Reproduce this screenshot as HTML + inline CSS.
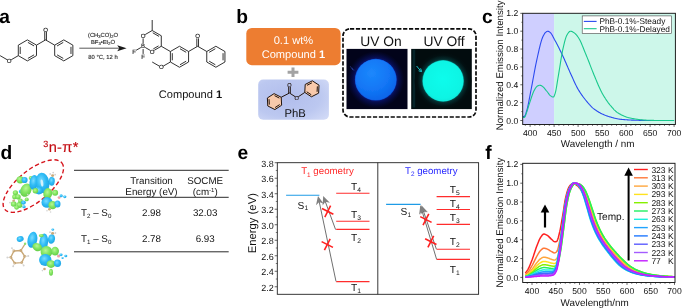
<!DOCTYPE html>
<html lang="en"><head><meta charset="utf-8"><title>Figure</title>
<style>html,body{margin:0;padding:0;background:#fff;}body{width:682px;height:308px;overflow:hidden;}svg{display:block;font-family:'Liberation Sans', Arial, sans-serif;text-rendering:geometricPrecision;}</style></head><body>
<svg width="682" height="308" viewBox="0 0 682 308">
<defs>
<radialGradient id="gBlue" cx="40%" cy="34%" r="70%"><stop offset="0" stop-color="#1c88fc"/><stop offset="0.6" stop-color="#1276f5"/><stop offset="1" stop-color="#0c64e8"/></radialGradient>
<radialGradient id="gBlueBg" cx="50%" cy="50%" r="50%"><stop offset="0" stop-color="#0a1670"/><stop offset="0.72" stop-color="#0a1670"/><stop offset="0.80" stop-color="#060c4a"/><stop offset="0.92" stop-color="#03062a"/><stop offset="1" stop-color="#02031a"/></radialGradient>
<radialGradient id="gCy" cx="50%" cy="45%" r="60%"><stop offset="0" stop-color="#10fcec"/><stop offset="0.8" stop-color="#0cf4e4"/><stop offset="1" stop-color="#08e4d6"/></radialGradient>
<radialGradient id="gCyBg" cx="50%" cy="50%" r="50%"><stop offset="0" stop-color="#084848"/><stop offset="0.71" stop-color="#084848"/><stop offset="0.78" stop-color="#04282a"/><stop offset="0.9" stop-color="#021012"/><stop offset="1" stop-color="#020c0e"/></radialGradient>
<radialGradient id="gPhB" cx="40%" cy="45%" r="80%"><stop offset="0" stop-color="#b1bdec"/><stop offset="0.6" stop-color="#bcc8f0"/><stop offset="1" stop-color="#d4dcf7"/></radialGradient>
<radialGradient id="gCyB" cx="42%" cy="38%" r="65%"><stop offset="0" stop-color="#7adcff"/><stop offset="0.5" stop-color="#30bcf6"/><stop offset="1" stop-color="#1ea4e2"/></radialGradient><radialGradient id="gGrB" cx="42%" cy="38%" r="65%"><stop offset="0" stop-color="#b8f696"/><stop offset="0.5" stop-color="#84e662"/><stop offset="1" stop-color="#64cc48"/></radialGradient>
<filter id="blur1" x="-20%" y="-20%" width="140%" height="140%"><feGaussianBlur stdDeviation="0.7"/></filter>
<filter id="blur2" x="-20%" y="-20%" width="140%" height="140%"><feGaussianBlur stdDeviation="0.5"/></filter>
<filter id="blur3" x="-20%" y="-20%" width="140%" height="140%"><feGaussianBlur stdDeviation="1.2"/></filter>
<clipPath id="clipP1"><rect x="346.5" y="48.9" width="61" height="60.2"/></clipPath><clipPath id="clipP2"><rect x="411.2" y="48.9" width="60.6" height="60.2"/></clipPath>
<clipPath id="clipC"><rect x="523" y="13.3" width="652.5" height="110.4"/></clipPath>
<clipPath id="clipF"><rect x="523" y="164" width="152" height="118.5"/></clipPath>
</defs>
<rect x="0" y="0" width="682" height="308" fill="#ffffff"/>
<text x="-0.8" y="22.7" font-size="19.2" text-anchor="start" fill="#000" font-weight="bold" >a</text>
<text x="236.2" y="22.7" font-size="19.2" text-anchor="start" fill="#000" font-weight="bold" >b</text>
<text x="482" y="22.7" font-size="19.2" text-anchor="start" fill="#000" font-weight="bold" >c</text>
<text x="0.6" y="158.7" font-size="19.2" text-anchor="start" fill="#000" font-weight="bold" >d</text>
<text x="237.5" y="158.7" font-size="19.2" text-anchor="start" fill="#000" font-weight="bold" >e</text>
<text x="485.3" y="158.8" font-size="19.2" text-anchor="start" fill="#000" font-weight="bold" >f</text>
<g id="panelA">
<line x1="27.4" y1="39.9" x2="36.49" y2="45.15" stroke="#1c1c1c" stroke-width="0.9" />
<line x1="36.49" y1="45.15" x2="36.49" y2="55.65" stroke="#1c1c1c" stroke-width="0.9" />
<line x1="36.49" y1="55.65" x2="27.4" y2="60.9" stroke="#1c1c1c" stroke-width="0.9" />
<line x1="27.4" y1="60.9" x2="18.31" y2="55.65" stroke="#1c1c1c" stroke-width="0.9" />
<line x1="18.31" y1="55.65" x2="18.31" y2="45.15" stroke="#1c1c1c" stroke-width="0.9" />
<line x1="18.31" y1="45.15" x2="27.4" y2="39.9" stroke="#1c1c1c" stroke-width="0.9" />
<line x1="27.9" y1="42.39" x2="34.09" y2="45.96" stroke="#1c1c1c" stroke-width="0.9" />
<line x1="34.09" y1="54.84" x2="27.9" y2="58.41" stroke="#1c1c1c" stroke-width="0.9" />
<line x1="20.21" y1="53.97" x2="20.21" y2="46.83" stroke="#1c1c1c" stroke-width="0.9" />
<line x1="63.77" y1="39.9" x2="72.87" y2="45.15" stroke="#1c1c1c" stroke-width="0.9" />
<line x1="72.87" y1="45.15" x2="72.87" y2="55.65" stroke="#1c1c1c" stroke-width="0.9" />
<line x1="72.87" y1="55.65" x2="63.77" y2="60.9" stroke="#1c1c1c" stroke-width="0.9" />
<line x1="63.77" y1="60.9" x2="54.68" y2="55.65" stroke="#1c1c1c" stroke-width="0.9" />
<line x1="54.68" y1="55.65" x2="54.68" y2="45.15" stroke="#1c1c1c" stroke-width="0.9" />
<line x1="54.68" y1="45.15" x2="63.77" y2="39.9" stroke="#1c1c1c" stroke-width="0.9" />
<line x1="70.97" y1="46.83" x2="70.97" y2="53.97" stroke="#1c1c1c" stroke-width="0.9" />
<line x1="63.27" y1="58.41" x2="57.08" y2="54.84" stroke="#1c1c1c" stroke-width="0.9" />
<line x1="57.08" y1="45.96" x2="63.27" y2="42.39" stroke="#1c1c1c" stroke-width="0.9" />
<line x1="36.49" y1="45.15" x2="45.59" y2="39.9" stroke="#1c1c1c" stroke-width="0.9" />
<line x1="45.59" y1="39.9" x2="54.68" y2="45.15" stroke="#1c1c1c" stroke-width="0.9" />
<line x1="44.74" y1="40.3" x2="44.74" y2="32" stroke="#1c1c1c" stroke-width="0.9" />
<line x1="46.44" y1="40.3" x2="46.44" y2="32" stroke="#1c1c1c" stroke-width="0.9" />
<text x="45.59" y="31.8" font-size="6.1" text-anchor="middle" fill="#151515" stroke="#151515" stroke-width="0.12">O</text>
<line x1="18.31" y1="55.65" x2="11.21" y2="59.75" stroke="#1c1c1c" stroke-width="0.9" />
<line x1="7.22" y1="59.75" x2="0.12" y2="55.65" stroke="#1c1c1c" stroke-width="0.9" />
<text x="9.21" y="63.1" font-size="6.1" text-anchor="middle" fill="#151515" stroke="#151515" stroke-width="0.12">O</text>
<line x1="79.3" y1="48.2" x2="121" y2="48.2" stroke="#222" stroke-width="0.75" />
<path d="M126.6 48.2 L117.2 45.2 L119.3 48.2 L117.2 51.2 Z" fill="#1a1a1a"/>
<text x="103" y="36.6" font-size="5.85" text-anchor="middle" fill="#222" stroke="#222" stroke-width="0.12">(CH<tspan font-size="4.0" dy="1.3">3</tspan><tspan dy="-1.3">CO)</tspan><tspan font-size="4.0" dy="1.3">2</tspan><tspan dy="-1.3">O</tspan></text>
<text x="103" y="43.6" font-size="5.85" text-anchor="middle" fill="#222" stroke="#222" stroke-width="0.12">BF<tspan font-size="4.0" dy="1.3">3</tspan><tspan dy="-1.3">•Et</tspan><tspan font-size="4.0" dy="1.3">2</tspan><tspan dy="-1.3">O</tspan></text>
<text x="103" y="58.6" font-size="5.85" text-anchor="middle" fill="#222" stroke="#222" stroke-width="0.12">80 °C, 12 h</text>
<line x1="152.2" y1="30.5" x2="161.29" y2="35.75" stroke="#1c1c1c" stroke-width="0.9" />
<line x1="152.74" y1="32.77" x2="159.06" y2="36.42" stroke="#1c1c1c" stroke-width="0.9" />
<line x1="161.29" y1="35.75" x2="161.29" y2="46.25" stroke="#1c1c1c" stroke-width="0.9" />
<line x1="161.29" y1="46.25" x2="154.28" y2="50.3" stroke="#1c1c1c" stroke-width="0.9" />
<line x1="158.54" y1="45.88" x2="153.26" y2="48.93" stroke="#1c1c1c" stroke-width="0.9" />
<line x1="150.12" y1="50.3" x2="145.19" y2="47.45" stroke="#1c1c1c" stroke-width="0.9" />
<line x1="143.11" y1="43.65" x2="143.11" y2="38.35" stroke="#1c1c1c" stroke-width="0.9" />
<line x1="145.19" y1="34.55" x2="152.2" y2="30.5" stroke="#1c1c1c" stroke-width="0.9" />
<line x1="152.2" y1="30.5" x2="152.2" y2="20" stroke="#1c1c1c" stroke-width="0.9" />
<text x="152.2" y="53.7" font-size="6.1" text-anchor="middle" fill="#151515" stroke="#151515" stroke-width="0.12">O</text>
<text x="143.11" y="48.45" font-size="6.1" text-anchor="middle" fill="#151515" stroke="#151515" stroke-width="0.12">B</text>
<text x="143.11" y="37.95" font-size="6.1" text-anchor="middle" fill="#151515" stroke="#151515" stroke-width="0.12">O</text>
<line x1="140.86" y1="47.55" x2="136.09" y2="50.3" stroke="#1c1c1c" stroke-width="0.9" />
<line x1="143.11" y1="49.05" x2="143.11" y2="53.95" stroke="#1c1c1c" stroke-width="0.9" />
<text x="134.01" y="53.7" font-size="6.1" text-anchor="middle" fill="#151515" stroke="#151515" stroke-width="0.12">F</text>
<text x="143.11" y="58.95" font-size="6.1" text-anchor="middle" fill="#151515" stroke="#151515" stroke-width="0.12">F</text>
<line x1="161.29" y1="46.25" x2="170.39" y2="51.5" stroke="#1c1c1c" stroke-width="0.9" />
<line x1="179.48" y1="46.25" x2="188.57" y2="51.5" stroke="#1c1c1c" stroke-width="0.9" />
<line x1="188.57" y1="51.5" x2="188.57" y2="62" stroke="#1c1c1c" stroke-width="0.9" />
<line x1="188.57" y1="62" x2="179.48" y2="67.25" stroke="#1c1c1c" stroke-width="0.9" />
<line x1="179.48" y1="67.25" x2="170.39" y2="62" stroke="#1c1c1c" stroke-width="0.9" />
<line x1="170.39" y1="62" x2="170.39" y2="51.5" stroke="#1c1c1c" stroke-width="0.9" />
<line x1="170.39" y1="51.5" x2="179.48" y2="46.25" stroke="#1c1c1c" stroke-width="0.9" />
<line x1="179.98" y1="48.74" x2="186.17" y2="52.31" stroke="#1c1c1c" stroke-width="0.9" />
<line x1="186.17" y1="61.19" x2="179.98" y2="64.76" stroke="#1c1c1c" stroke-width="0.9" />
<line x1="172.29" y1="60.32" x2="172.29" y2="53.18" stroke="#1c1c1c" stroke-width="0.9" />
<line x1="170.39" y1="62" x2="163.29" y2="66.1" stroke="#1c1c1c" stroke-width="0.9" />
<line x1="159.3" y1="66.1" x2="152.2" y2="62" stroke="#1c1c1c" stroke-width="0.9" />
<text x="161.29" y="69.45" font-size="6.1" text-anchor="middle" fill="#151515" stroke="#151515" stroke-width="0.12">O</text>
<line x1="188.57" y1="51.5" x2="197.67" y2="46.25" stroke="#1c1c1c" stroke-width="0.9" />
<line x1="196.82" y1="46.65" x2="196.82" y2="38.35" stroke="#1c1c1c" stroke-width="0.9" />
<line x1="198.52" y1="46.65" x2="198.52" y2="38.35" stroke="#1c1c1c" stroke-width="0.9" />
<text x="197.67" y="38.15" font-size="6.1" text-anchor="middle" fill="#151515" stroke="#151515" stroke-width="0.12">O</text>
<line x1="197.67" y1="46.25" x2="206.76" y2="51.5" stroke="#1c1c1c" stroke-width="0.9" />
<line x1="215.85" y1="46.25" x2="224.95" y2="51.5" stroke="#1c1c1c" stroke-width="0.9" />
<line x1="224.95" y1="51.5" x2="224.95" y2="62" stroke="#1c1c1c" stroke-width="0.9" />
<line x1="224.95" y1="62" x2="215.85" y2="67.25" stroke="#1c1c1c" stroke-width="0.9" />
<line x1="215.85" y1="67.25" x2="206.76" y2="62" stroke="#1c1c1c" stroke-width="0.9" />
<line x1="206.76" y1="62" x2="206.76" y2="51.5" stroke="#1c1c1c" stroke-width="0.9" />
<line x1="206.76" y1="51.5" x2="215.85" y2="46.25" stroke="#1c1c1c" stroke-width="0.9" />
<line x1="223.05" y1="53.18" x2="223.05" y2="60.32" stroke="#1c1c1c" stroke-width="0.9" />
<line x1="215.35" y1="64.76" x2="209.16" y2="61.19" stroke="#1c1c1c" stroke-width="0.9" />
<line x1="209.16" y1="52.31" x2="215.35" y2="48.74" stroke="#1c1c1c" stroke-width="0.9" />
<text x="158.8" y="98.4" font-size="11.07" fill="#111">Compound <tspan font-weight="bold">1</tspan></text>
</g>
<g id="panelB">
<rect x="246.3" y="28" width="94.3" height="37.2" rx="5.5" ry="5.5" fill="#ed7d31"/>
<text x="293.4" y="43.9" font-size="11.1" text-anchor="middle" fill="#fff" font-weight="normal" >0.1 wt%</text>
<text x="293.4" y="57.5" font-size="11.1" text-anchor="middle" fill="#fff">Compound <tspan font-weight="bold">1</tspan></text>
<path d="M291.5 67.4 h3 v3.3 h3.9 v3 h-3.9 v3.3 h-3 v-3.3 h-3.9 v-3 h3.9 z" fill="#a3a3a3"/>
<rect x="258.2" y="79.5" width="70.7" height="40.2" rx="5" ry="5" fill="url(#gPhB)"/>
<polygon points="274.08,93.61 281.21,97.24 281.63,105.23 274.92,109.59 267.79,105.96 267.37,97.97" fill="#f8c9ab"/>
<line x1="274.08" y1="93.61" x2="281.21" y2="97.24" stroke="#20140e" stroke-width="1.0" />
<line x1="281.21" y1="97.24" x2="281.63" y2="105.23" stroke="#20140e" stroke-width="1.0" />
<line x1="281.63" y1="105.23" x2="274.92" y2="109.59" stroke="#20140e" stroke-width="1.0" />
<line x1="274.92" y1="109.59" x2="267.79" y2="105.96" stroke="#20140e" stroke-width="1.0" />
<line x1="267.79" y1="105.96" x2="267.37" y2="97.97" stroke="#20140e" stroke-width="1.0" />
<line x1="267.37" y1="97.97" x2="274.08" y2="93.61" stroke="#20140e" stroke-width="1.0" />
<line x1="274.5" y1="95.62" x2="279.34" y2="98.09" stroke="#20140e" stroke-width="1.0" />
<line x1="279.68" y1="104.59" x2="275.12" y2="107.55" stroke="#20140e" stroke-width="1.0" />
<line x1="269.32" y1="104.6" x2="269.04" y2="99.16" stroke="#20140e" stroke-width="1.0" />
<polygon points="312.32,80.81 319.03,85.17 318.61,93.16 311.48,96.79 304.77,92.43 305.19,84.44" fill="#f8c9ab"/>
<line x1="312.32" y1="80.81" x2="319.03" y2="85.17" stroke="#20140e" stroke-width="1.0" />
<line x1="319.03" y1="85.17" x2="318.61" y2="93.16" stroke="#20140e" stroke-width="1.0" />
<line x1="318.61" y1="93.16" x2="311.48" y2="96.79" stroke="#20140e" stroke-width="1.0" />
<line x1="311.48" y1="96.79" x2="304.77" y2="92.43" stroke="#20140e" stroke-width="1.0" />
<line x1="304.77" y1="92.43" x2="305.19" y2="84.44" stroke="#20140e" stroke-width="1.0" />
<line x1="305.19" y1="84.44" x2="312.32" y2="80.81" stroke="#20140e" stroke-width="1.0" />
<line x1="317.36" y1="86.36" x2="317.08" y2="91.8" stroke="#20140e" stroke-width="1.0" />
<line x1="311.28" y1="94.75" x2="306.72" y2="91.79" stroke="#20140e" stroke-width="1.0" />
<line x1="307.06" y1="85.29" x2="311.9" y2="82.82" stroke="#20140e" stroke-width="1.0" />
<line x1="281.21" y1="97.24" x2="289.5" y2="93" stroke="#20140e" stroke-width="1.0" />
<line x1="288.7" y1="93" x2="288.7" y2="87" stroke="#20140e" stroke-width="1.0" />
<line x1="290.3" y1="93" x2="290.3" y2="87" stroke="#20140e" stroke-width="1.0" />
<line x1="289.5" y1="93" x2="295.3" y2="96.81" stroke="#20140e" stroke-width="1.0" />
<line x1="298.29" y1="96.79" x2="304.77" y2="92.43" stroke="#20140e" stroke-width="1.0" />
<text x="289.5" y="87.22" font-size="5.6" text-anchor="middle" fill="#20140e" stroke="#20140e" stroke-width="0.12">O</text>
<text x="296.8" y="99.82" font-size="5.6" text-anchor="middle" fill="#20140e" stroke="#20140e" stroke-width="0.12">O</text>
<text x="295.1" y="117" font-size="11.3" text-anchor="middle" fill="#111" font-weight="normal" >PhB</text>
<rect x="343" y="28.9" width="133" height="88.1" rx="7" ry="7" fill="none" stroke="#0a0a0a" stroke-width="1.7" stroke-dasharray="4.2 1.7"/>
<text x="381" y="46.3" font-size="13.8" text-anchor="middle" fill="#111" font-weight="normal" >UV On</text>
<text x="444" y="46.3" font-size="13.8" text-anchor="middle" fill="#111" font-weight="normal" >UV Off</text>
<rect x="346.5" y="48.9" width="61" height="60.2" fill="#02031a"/>
<circle cx="375.8" cy="79.7" r="28.5" fill="url(#gBlueBg)" clip-path="url(#clipP1)"/>
<circle cx="375.8" cy="79.7" r="20.9" fill="#0c50d8" filter="url(#blur2)"/>
<circle cx="375.8" cy="79.7" r="20.4" fill="url(#gBlue)" filter="url(#blur2)"/>
<path d="M350.2 66.2 L352.6 69.6 L354.4 70.2 M352.6 69.6 L352.2 67.8" fill="none" stroke="#3c56c8" stroke-width="0.6" opacity="0.8"/>
<rect x="411.2" y="48.9" width="60.6" height="60.2" fill="#020c0e"/>
<rect x="412.6" y="49.5" width="2.6" height="58" fill="#0a4048" opacity="0.45" filter="url(#blur2)"/>
<circle cx="443.1" cy="80.9" r="28.5" fill="url(#gCyBg)" clip-path="url(#clipP2)"/>
<circle cx="443.1" cy="80.9" r="20.8" fill="#0aa8a0" filter="url(#blur2)"/>
<circle cx="443.1" cy="80.9" r="20.3" fill="url(#gCy)" filter="url(#blur2)"/>
<path d="M416.6 66.0 L420.4 70.6 M418.6 70.8 L421.6 71.6 L420.6 68.4" fill="none" stroke="#20d8e0" stroke-width="1.0" opacity="0.9"/>
</g>
<g id="panelC">
<rect x="522.7" y="13.3" width="31.4" height="111.2" fill="#cfcfff"/>
<rect x="554.1" y="13.3" width="121.3" height="111.2" fill="#cdf7ea"/>
<path d="M522.9 116.48 L523.48 116.48 L524.07 116.48 L524.65 116.32 L525.24 115.32 L525.82 113.68 L526.4 111.77 L526.99 109.86 L527.57 107.59 L528.15 104.94 L528.74 102.02 L529.32 98.94 L529.91 95.8 L530.49 92.71 L531.07 89.76 L531.66 86.73 L532.24 83.61 L532.82 80.44 L533.41 77.24 L533.99 74.05 L534.58 70.91 L535.16 67.83 L535.74 64.86 L536.33 62.03 L536.91 59.37 L537.49 56.75 L538.08 54.12 L538.66 51.51 L539.25 48.97 L539.83 46.52 L540.41 44.21 L541 42.07 L541.58 40.15 L542.16 38.47 L542.75 37.07 L543.33 35.81 L543.92 34.66 L544.5 33.68 L545.08 32.91 L545.67 32.37 L546.25 31.9 L546.84 31.52 L547.42 31.26 L548 31.21 L548.59 31.37 L549.17 31.7 L549.75 32.13 L550.34 32.6 L550.92 33.22 L551.51 34.03 L552.09 34.99 L552.67 36.05 L553.26 37.17 L553.84 38.3 L554.42 39.4 L555.01 40.45 L555.59 41.52 L556.18 42.61 L556.76 43.71 L557.34 44.83 L557.93 45.97 L558.51 47.12 L559.09 48.29 L559.68 49.47 L560.26 50.66 L560.85 51.86 L561.43 53.07 L562.01 54.29 L562.6 55.52 L563.18 56.77 L563.76 58.04 L564.35 59.34 L564.93 60.66 L565.52 62 L566.1 63.34 L566.68 64.69 L567.27 66.05 L567.85 67.39 L568.44 68.73 L569.02 70.06 L569.6 71.37 L570.19 72.66 L570.77 73.93 L571.35 75.22 L571.94 76.52 L572.52 77.82 L573.11 79.12 L573.69 80.41 L574.27 81.69 L574.86 82.95 L575.44 84.18 L576.02 85.37 L576.61 86.52 L577.19 87.63 L577.78 88.68 L578.36 89.68 L578.94 90.65 L579.53 91.59 L580.11 92.5 L580.69 93.39 L581.28 94.26 L581.86 95.1 L582.45 95.92 L583.03 96.73 L583.61 97.51 L584.2 98.28 L584.78 99.03 L585.36 99.76 L585.95 100.48 L586.53 101.18 L587.12 101.88 L587.7 102.58 L588.28 103.26 L588.87 103.94 L589.45 104.6 L590.04 105.24 L590.62 105.87 L591.2 106.47 L591.79 107.04 L592.37 107.59 L592.95 108.1 L593.54 108.58 L594.12 109.03 L594.71 109.45 L595.29 109.87 L595.87 110.28 L596.46 110.68 L597.04 111.07 L597.62 111.44 L598.21 111.81 L598.79 112.17 L599.38 112.52 L599.96 112.85 L600.54 113.17 L601.13 113.49 L601.71 113.79 L602.29 114.08 L602.88 114.35 L603.46 114.61 L604.05 114.87 L604.63 115.1 L605.21 115.33 L605.8 115.54 L606.38 115.74 L606.96 115.94 L607.55 116.13 L608.13 116.33 L608.72 116.51 L609.3 116.7 L609.88 116.88 L610.47 117.06 L611.05 117.23 L611.64 117.4 L612.22 117.57 L612.8 117.73 L613.39 117.89 L613.97 118.04 L614.55 118.18 L615.14 118.32 L615.72 118.45 L616.31 118.58 L616.89 118.7 L617.47 118.81 L618.06 118.92 L618.64 119.02 L619.22 119.11 L619.81 119.2 L620.39 119.28 L620.98 119.35 L621.56 119.41 L622.14 119.46 L622.73 119.51 L623.31 119.56 L623.89 119.61 L624.48 119.66 L625.06 119.7 L625.65 119.74 L626.23 119.78 L626.81 119.82 L627.4 119.86 L627.98 119.9 L628.56 119.93 L629.15 119.96 L629.73 120 L630.32 120.02 L630.9 120.05 L631.48 120.08 L632.07 120.1 L632.65 120.13 L633.24 120.15 L633.82 120.17 L634.4 120.19 L634.99 120.21 L635.57 120.23 L636.15 120.24 L636.74 120.26 L637.32 120.28 L637.91 120.29 L638.49 120.31 L639.07 120.33 L639.66 120.34 L640.24 120.36 L640.82 120.37 L641.41 120.38 L641.99 120.4 L642.58 120.41 L643.16 120.42 L643.74 120.43 L644.33 120.44 L644.91 120.45 L645.49 120.46 L646.08 120.47 L646.66 120.48 L647.25 120.49 L647.83 120.49 L648.41 120.49 L649 120.5 L649.58 120.5 L650.16 120.5 L650.75 120.5 L651.33 120.5 L651.92 120.5 L652.5 120.5 L653.08 120.5 L653.67 120.5 L654.25 120.5 L654.84 120.5 L655.42 120.5 L656 120.5 L656.59 120.5 L657.17 120.5 L657.75 120.5 L658.34 120.5 L658.92 120.5 L659.51 120.5 L660.09 120.5 L660.67 120.5 L661.26 120.5 L661.84 120.5 L662.42 120.5 L663.01 120.5 L663.59 120.5 L664.18 120.5 L664.76 120.5 L665.34 120.5 L665.93 120.5 L666.51 120.5 L667.09 120.5 L667.68 120.5 L668.26 120.5 L668.85 120.5 L669.43 120.5 L670.01 120.5 L670.6 120.5 L671.18 120.5 L671.76 120.5 L672.35 120.5 L672.93 120.5 L673.52 120.5 L674.1 120.5" fill="none" stroke="#2b4af0" stroke-width="1.1" stroke-linejoin="round"/>
<path d="M522.9 117.37 L523.48 117.37 L524.07 117.37 L524.65 117.22 L525.24 116.25 L525.82 114.7 L526.4 112.96 L526.99 111.33 L527.57 109.51 L528.15 107.55 L528.74 105.66 L529.32 103.91 L529.91 102.13 L530.49 100.33 L531.07 98.54 L531.66 96.8 L532.24 95.12 L532.82 93.54 L533.41 92.08 L533.99 90.77 L534.58 89.63 L535.16 88.67 L535.74 87.79 L536.33 87.01 L536.91 86.41 L537.49 86 L538.08 85.67 L538.66 85.41 L539.25 85.25 L539.83 85.24 L540.41 85.37 L541 85.58 L541.58 85.86 L542.16 86.15 L542.75 86.54 L543.33 87.06 L543.92 87.67 L544.5 88.36 L545.08 89.09 L545.67 89.83 L546.25 90.55 L546.84 91.24 L547.42 91.98 L548 92.79 L548.59 93.61 L549.17 94.4 L549.75 95.09 L550.34 95.66 L550.92 96.05 L551.51 96.39 L552.09 96.69 L552.67 96.91 L553.26 97.01 L553.84 96.66 L554.42 95.45 L555.01 93.85 L555.59 91.83 L556.18 88.99 L556.76 85.59 L557.34 81.91 L557.93 78.23 L558.51 74.8 L559.09 71.37 L559.68 67.78 L560.26 64.12 L560.85 60.46 L561.43 56.92 L562.01 53.56 L562.6 50.49 L563.18 47.8 L563.76 45.35 L564.35 42.96 L564.93 40.71 L565.52 38.66 L566.1 36.89 L566.68 35.47 L567.27 34.44 L567.85 33.53 L568.44 32.7 L569.02 32 L569.6 31.49 L570.19 31.23 L570.77 31.22 L571.35 31.35 L571.94 31.56 L572.52 31.84 L573.11 32.15 L573.69 32.49 L574.27 32.86 L574.86 33.32 L575.44 33.88 L576.02 34.5 L576.61 35.19 L577.19 35.94 L577.78 36.73 L578.36 37.55 L578.94 38.45 L579.53 39.47 L580.11 40.6 L580.69 41.81 L581.28 43.09 L581.86 44.44 L582.45 45.84 L583.03 47.28 L583.61 48.74 L584.2 50.21 L584.78 51.68 L585.36 53.14 L585.95 54.57 L586.53 55.96 L587.12 57.38 L587.7 58.83 L588.28 60.31 L588.87 61.81 L589.45 63.31 L590.04 64.83 L590.62 66.35 L591.2 67.86 L591.79 69.37 L592.37 70.86 L592.95 72.32 L593.54 73.77 L594.12 75.18 L594.71 76.57 L595.29 77.97 L595.87 79.38 L596.46 80.78 L597.04 82.18 L597.62 83.57 L598.21 84.93 L598.79 86.27 L599.38 87.58 L599.96 88.85 L600.54 90.07 L601.13 91.25 L601.71 92.37 L602.29 93.43 L602.88 94.46 L603.46 95.46 L604.05 96.44 L604.63 97.39 L605.21 98.32 L605.8 99.22 L606.38 100.09 L606.96 100.94 L607.55 101.76 L608.13 102.56 L608.72 103.33 L609.3 104.08 L609.88 104.8 L610.47 105.5 L611.05 106.2 L611.64 106.89 L612.22 107.57 L612.8 108.23 L613.39 108.88 L613.97 109.51 L614.55 110.11 L615.14 110.68 L615.72 111.22 L616.31 111.72 L616.89 112.19 L617.47 112.61 L618.06 112.98 L618.64 113.33 L619.22 113.67 L619.81 114.01 L620.39 114.33 L620.98 114.64 L621.56 114.94 L622.14 115.23 L622.73 115.51 L623.31 115.78 L623.89 116.04 L624.48 116.29 L625.06 116.52 L625.65 116.74 L626.23 116.95 L626.81 117.15 L627.4 117.34 L627.98 117.51 L628.56 117.67 L629.15 117.82 L629.73 117.96 L630.32 118.08 L630.9 118.2 L631.48 118.32 L632.07 118.43 L632.65 118.54 L633.24 118.65 L633.82 118.76 L634.4 118.86 L634.99 118.96 L635.57 119.06 L636.15 119.15 L636.74 119.24 L637.32 119.33 L637.91 119.41 L638.49 119.49 L639.07 119.56 L639.66 119.64 L640.24 119.7 L640.82 119.77 L641.41 119.83 L641.99 119.89 L642.58 119.94 L643.16 119.98 L643.74 120.03 L644.33 120.07 L644.91 120.1 L645.49 120.13 L646.08 120.16 L646.66 120.18 L647.25 120.2 L647.83 120.23 L648.41 120.25 L649 120.27 L649.58 120.29 L650.16 120.31 L650.75 120.33 L651.33 120.35 L651.92 120.37 L652.5 120.39 L653.08 120.4 L653.67 120.42 L654.25 120.43 L654.84 120.45 L655.42 120.46 L656 120.47 L656.59 120.48 L657.17 120.48 L657.75 120.49 L658.34 120.5 L658.92 120.5 L659.51 120.5 L660.09 120.5 L660.67 120.5 L661.26 120.5 L661.84 120.5 L662.42 120.5 L663.01 120.5 L663.59 120.5 L664.18 120.5 L664.76 120.5 L665.34 120.5 L665.93 120.5 L666.51 120.5 L667.09 120.5 L667.68 120.5 L668.26 120.5 L668.85 120.5 L669.43 120.5 L670.01 120.5 L670.6 120.5 L671.18 120.5 L671.76 120.5 L672.35 120.5 L672.93 120.5 L673.52 120.5 L674.1 120.5" fill="none" stroke="#18c98c" stroke-width="1.1" stroke-linejoin="round"/>
<rect x="522.7" y="13.3" width="152.7" height="111.2" fill="none" stroke="#161616" stroke-width="0.95"/>
<line x1="520.3" y1="120.5" x2="522.7" y2="120.5" stroke="#222" stroke-width="0.7" />
<text x="518.2" y="123.6" font-size="8.6" text-anchor="end" fill="#111" font-weight="normal" >0.0</text>
<line x1="520.3" y1="102.64" x2="522.7" y2="102.64" stroke="#222" stroke-width="0.7" />
<text x="518.2" y="105.74" font-size="8.6" text-anchor="end" fill="#111" font-weight="normal" >0.2</text>
<line x1="520.3" y1="84.78" x2="522.7" y2="84.78" stroke="#222" stroke-width="0.7" />
<text x="518.2" y="87.88" font-size="8.6" text-anchor="end" fill="#111" font-weight="normal" >0.4</text>
<line x1="520.3" y1="66.92" x2="522.7" y2="66.92" stroke="#222" stroke-width="0.7" />
<text x="518.2" y="70.02" font-size="8.6" text-anchor="end" fill="#111" font-weight="normal" >0.6</text>
<line x1="520.3" y1="49.06" x2="522.7" y2="49.06" stroke="#222" stroke-width="0.7" />
<text x="518.2" y="52.16" font-size="8.6" text-anchor="end" fill="#111" font-weight="normal" >0.8</text>
<line x1="520.3" y1="31.2" x2="522.7" y2="31.2" stroke="#222" stroke-width="0.7" />
<text x="518.2" y="34.3" font-size="8.6" text-anchor="end" fill="#111" font-weight="normal" >1.0</text>
<line x1="520.3" y1="13.34" x2="522.7" y2="13.34" stroke="#222" stroke-width="0.7" />
<text x="518.2" y="16.44" font-size="8.6" text-anchor="end" fill="#111" font-weight="normal" >1.2</text>
<line x1="521.3" y1="111.57" x2="522.7" y2="111.57" stroke="#222" stroke-width="0.6" />
<line x1="521.3" y1="93.71" x2="522.7" y2="93.71" stroke="#222" stroke-width="0.6" />
<line x1="521.3" y1="75.85" x2="522.7" y2="75.85" stroke="#222" stroke-width="0.6" />
<line x1="521.3" y1="57.99" x2="522.7" y2="57.99" stroke="#222" stroke-width="0.6" />
<line x1="521.3" y1="40.13" x2="522.7" y2="40.13" stroke="#222" stroke-width="0.6" />
<line x1="521.3" y1="22.27" x2="522.7" y2="22.27" stroke="#222" stroke-width="0.6" />
<line x1="530.1" y1="124.5" x2="530.1" y2="126.9" stroke="#222" stroke-width="0.7" />
<text x="530.1" y="135.7" font-size="8.6" text-anchor="middle" fill="#111" font-weight="normal" >400</text>
<line x1="554.1" y1="124.5" x2="554.1" y2="126.9" stroke="#222" stroke-width="0.7" />
<text x="554.1" y="135.7" font-size="8.6" text-anchor="middle" fill="#111" font-weight="normal" >450</text>
<line x1="578.1" y1="124.5" x2="578.1" y2="126.9" stroke="#222" stroke-width="0.7" />
<text x="578.1" y="135.7" font-size="8.6" text-anchor="middle" fill="#111" font-weight="normal" >500</text>
<line x1="602.1" y1="124.5" x2="602.1" y2="126.9" stroke="#222" stroke-width="0.7" />
<text x="602.1" y="135.7" font-size="8.6" text-anchor="middle" fill="#111" font-weight="normal" >550</text>
<line x1="626.1" y1="124.5" x2="626.1" y2="126.9" stroke="#222" stroke-width="0.7" />
<text x="626.1" y="135.7" font-size="8.6" text-anchor="middle" fill="#111" font-weight="normal" >600</text>
<line x1="650.1" y1="124.5" x2="650.1" y2="126.9" stroke="#222" stroke-width="0.7" />
<text x="650.1" y="135.7" font-size="8.6" text-anchor="middle" fill="#111" font-weight="normal" >650</text>
<line x1="674.1" y1="124.5" x2="674.1" y2="126.9" stroke="#222" stroke-width="0.7" />
<text x="674.1" y="135.7" font-size="8.6" text-anchor="middle" fill="#111" font-weight="normal" >700</text>
<line x1="525.3" y1="124.5" x2="525.3" y2="125.9" stroke="#222" stroke-width="0.6" />
<line x1="534.9" y1="124.5" x2="534.9" y2="125.9" stroke="#222" stroke-width="0.6" />
<line x1="539.7" y1="124.5" x2="539.7" y2="125.9" stroke="#222" stroke-width="0.6" />
<line x1="544.5" y1="124.5" x2="544.5" y2="125.9" stroke="#222" stroke-width="0.6" />
<line x1="549.3" y1="124.5" x2="549.3" y2="125.9" stroke="#222" stroke-width="0.6" />
<line x1="558.9" y1="124.5" x2="558.9" y2="125.9" stroke="#222" stroke-width="0.6" />
<line x1="563.7" y1="124.5" x2="563.7" y2="125.9" stroke="#222" stroke-width="0.6" />
<line x1="568.5" y1="124.5" x2="568.5" y2="125.9" stroke="#222" stroke-width="0.6" />
<line x1="573.3" y1="124.5" x2="573.3" y2="125.9" stroke="#222" stroke-width="0.6" />
<line x1="582.9" y1="124.5" x2="582.9" y2="125.9" stroke="#222" stroke-width="0.6" />
<line x1="587.7" y1="124.5" x2="587.7" y2="125.9" stroke="#222" stroke-width="0.6" />
<line x1="592.5" y1="124.5" x2="592.5" y2="125.9" stroke="#222" stroke-width="0.6" />
<line x1="597.3" y1="124.5" x2="597.3" y2="125.9" stroke="#222" stroke-width="0.6" />
<line x1="606.9" y1="124.5" x2="606.9" y2="125.9" stroke="#222" stroke-width="0.6" />
<line x1="611.7" y1="124.5" x2="611.7" y2="125.9" stroke="#222" stroke-width="0.6" />
<line x1="616.5" y1="124.5" x2="616.5" y2="125.9" stroke="#222" stroke-width="0.6" />
<line x1="621.3" y1="124.5" x2="621.3" y2="125.9" stroke="#222" stroke-width="0.6" />
<line x1="630.9" y1="124.5" x2="630.9" y2="125.9" stroke="#222" stroke-width="0.6" />
<line x1="635.7" y1="124.5" x2="635.7" y2="125.9" stroke="#222" stroke-width="0.6" />
<line x1="640.5" y1="124.5" x2="640.5" y2="125.9" stroke="#222" stroke-width="0.6" />
<line x1="645.3" y1="124.5" x2="645.3" y2="125.9" stroke="#222" stroke-width="0.6" />
<line x1="654.9" y1="124.5" x2="654.9" y2="125.9" stroke="#222" stroke-width="0.6" />
<line x1="659.7" y1="124.5" x2="659.7" y2="125.9" stroke="#222" stroke-width="0.6" />
<line x1="664.5" y1="124.5" x2="664.5" y2="125.9" stroke="#222" stroke-width="0.6" />
<line x1="669.3" y1="124.5" x2="669.3" y2="125.9" stroke="#222" stroke-width="0.6" />
<text x="597.6" y="147" font-size="9.9" text-anchor="middle" fill="#111" font-weight="normal" >Wavelength / nm</text>
<text transform="translate(503.2 65.4) rotate(-90)" font-size="9.7" text-anchor="middle" fill="#111">Normalized Emission Intensity</text>
<rect x="582.2" y="15.9" width="89.4" height="17.7" fill="#fff" stroke="#444" stroke-width="0.6"/>
<line x1="583.8" y1="21.4" x2="596.6" y2="21.4" stroke="#2b4af0" stroke-width="1.1" />
<line x1="583.8" y1="28.7" x2="596.6" y2="28.7" stroke="#18c98c" stroke-width="1.1" />
<text x="599.4" y="24.3" font-size="8.3" text-anchor="start" fill="#111" font-weight="normal" >PhB-0.1%-Steady</text>
<text x="599.4" y="31.6" font-size="8.3" text-anchor="start" fill="#111" font-weight="normal" >PhB-0.1%-Delayed</text>
</g>
<g id="panelD">
<text x="43.3" y="152.1" font-size="14.6" letter-spacing="0.35" fill="#c40c12" stroke="#c40c12" stroke-width="0.15"><tspan font-size="9" dy="-5.2">3</tspan><tspan dy="5.2">n-π*</tspan></text>
<ellipse cx="33.3" cy="186.1" rx="36.8" ry="15.8" transform="rotate(-39.2 33.3 186.1)" fill="none" stroke="#d6141c" stroke-width="1.4" stroke-dasharray="4.2 2.6"/>
<g filter="url(#blur2)">
<ellipse cx="15.4" cy="192.8" rx="2.64" ry="2.52" fill="url(#gGrB)" transform="rotate(0 15.4 192.8)"/>
<ellipse cx="14.5" cy="197" rx="2.4" ry="2.4" fill="url(#gGrB)" transform="rotate(0 14.5 197)"/>
<ellipse cx="18" cy="196.8" rx="2.76" ry="2.64" fill="url(#gGrB)" transform="rotate(0 18 196.8)"/>
<ellipse cx="13.7" cy="204.1" rx="2.88" ry="2.76" fill="url(#gGrB)" transform="rotate(0 13.7 204.1)"/>
<ellipse cx="19.4" cy="205" rx="3" ry="2.88" fill="url(#gGrB)" transform="rotate(0 19.4 205)"/>
<ellipse cx="20.4" cy="200.9" rx="2.4" ry="2.28" fill="url(#gGrB)" transform="rotate(0 20.4 200.9)"/>
<ellipse cx="16.6" cy="207.6" rx="2.4" ry="2.16" fill="url(#gGrB)" transform="rotate(0 16.6 207.6)"/>
<ellipse cx="26.7" cy="199.4" rx="2.04" ry="1.92" fill="url(#gGrB)" transform="rotate(0 26.7 199.4)"/>
<ellipse cx="23.5" cy="202.6" rx="2.4" ry="2.16" fill="url(#gCyB)" transform="rotate(0 23.5 202.6)"/>
<ellipse cx="21" cy="191.4" rx="2.04" ry="1.92" fill="url(#gCyB)" transform="rotate(0 21 191.4)"/>
<ellipse cx="24" cy="206.8" rx="1.68" ry="1.56" fill="url(#gCyB)" transform="rotate(0 24 206.8)"/>
<ellipse cx="20.2" cy="179.8" rx="3.72" ry="3.6" fill="url(#gGrB)" transform="rotate(0 20.2 179.8)"/>
<ellipse cx="24.6" cy="180" rx="3" ry="3.12" fill="url(#gCyB)" transform="rotate(0 24.6 180)"/>
<ellipse cx="25.9" cy="190.2" rx="5.4" ry="6.96" fill="url(#gGrB)" transform="rotate(28 25.9 190.2)"/>
<ellipse cx="30.8" cy="178" rx="2.04" ry="1.92" fill="url(#gGrB)" transform="rotate(0 30.8 178)"/>
<ellipse cx="33.8" cy="182.4" rx="4.32" ry="7.44" fill="url(#gCyB)" transform="rotate(8 33.8 182.4)"/>
<ellipse cx="42.6" cy="182.9" rx="6.72" ry="10.32" fill="url(#gCyB)" transform="rotate(-8 42.6 182.9)"/>
<ellipse cx="38.9" cy="190.6" rx="3.96" ry="3.84" fill="url(#gCyB)" transform="rotate(0 38.9 190.6)"/>
<ellipse cx="35.4" cy="190.8" rx="2.76" ry="2.76" fill="url(#gGrB)" transform="rotate(0 35.4 190.8)"/>
<ellipse cx="51.8" cy="181.3" rx="3" ry="4.44" fill="url(#gCyB)" transform="rotate(5 51.8 181.3)"/>
<ellipse cx="47.8" cy="193.6" rx="4.44" ry="5.52" fill="url(#gGrB)" transform="rotate(10 47.8 193.6)"/>
<ellipse cx="55.1" cy="192.8" rx="3" ry="3" fill="url(#gGrB)" transform="rotate(0 55.1 192.8)"/>
<ellipse cx="47" cy="202.4" rx="5.52" ry="5.4" fill="url(#gCyB)" transform="rotate(0 47 202.4)"/>
<ellipse cx="52.6" cy="205.2" rx="4.2" ry="4.08" fill="url(#gGrB)" transform="rotate(0 52.6 205.2)"/>
<ellipse cx="57.5" cy="204" rx="3" ry="3.6" fill="url(#gCyB)" transform="rotate(0 57.5 204)"/>
<ellipse cx="42" cy="183" rx="1.3" ry="3.6" fill="#d4f1fc" transform="rotate(-8 42 183)"/>
<ellipse cx="52.6" cy="175.6" rx="1.5" ry="1.4" fill="#c9a878" transform="rotate(0 52.6 175.6)"/>
<ellipse cx="50.2" cy="174" rx="0.9" ry="0.9" fill="#d2d2d2" transform="rotate(0 50.2 174)"/>
<ellipse cx="55.2" cy="174.6" rx="0.9" ry="0.9" fill="#d2d2d2" transform="rotate(0 55.2 174.6)"/>
<ellipse cx="53.2" cy="172.6" rx="0.9" ry="0.9" fill="#d2d2d2" transform="rotate(0 53.2 172.6)"/>
<ellipse cx="59.1" cy="197.6" rx="1.5" ry="1.4" fill="#f0a0a8" transform="rotate(0 59.1 197.6)"/>
<ellipse cx="61.2" cy="195.8" rx="1.6" ry="1.5" fill="url(#gCyB)" transform="rotate(0 61.2 195.8)"/>
<ellipse cx="64.8" cy="196.8" rx="1.6" ry="1.4" fill="url(#gCyB)" transform="rotate(0 64.8 196.8)"/>
<ellipse cx="13.7" cy="200.6" rx="1.3" ry="1.2" fill="#c9a878" transform="rotate(0 13.7 200.6)"/>
<ellipse cx="10" cy="202.6" rx="0.9" ry="0.9" fill="#d2d2d2" transform="rotate(0 10 202.6)"/>
<ellipse cx="27.8" cy="194.6" rx="0.8" ry="0.8" fill="#d2d2d2" transform="rotate(0 27.8 194.6)"/>
<ellipse cx="49.4" cy="209.2" rx="1.4" ry="1.3" fill="#c9a878" transform="rotate(0 49.4 209.2)"/>
<ellipse cx="47" cy="210.8" rx="0.8" ry="0.8" fill="#d2d2d2" transform="rotate(0 47 210.8)"/>
<ellipse cx="50.6" cy="212" rx="0.8" ry="0.8" fill="#d2d2d2" transform="rotate(0 50.6 212)"/>
</g>
<g filter="url(#blur2)">
<polygon points="20.87,250.51 24.78,256.31 21.71,262.6 14.73,263.09 10.82,257.29 13.89,251" fill="none" stroke="#c9a878" stroke-width="1.4" stroke-linejoin="round"/>
<ellipse cx="20.87" cy="250.51" rx="1.4" ry="1.4" fill="#c9a878" transform="rotate(0 20.87 250.51)"/>
<ellipse cx="24.78" cy="256.31" rx="1.4" ry="1.4" fill="#c9a878" transform="rotate(0 24.78 256.31)"/>
<line x1="24.78" y1="256.31" x2="28.27" y2="256.07" stroke="#d8d0c0" stroke-width="0.7" />
<ellipse cx="28.27" cy="256.07" rx="0.95" ry="0.95" fill="#d2d2d2" transform="rotate(0 28.27 256.07)"/>
<ellipse cx="21.71" cy="262.6" rx="1.4" ry="1.4" fill="#c9a878" transform="rotate(0 21.71 262.6)"/>
<line x1="21.71" y1="262.6" x2="23.67" y2="265.5" stroke="#d8d0c0" stroke-width="0.7" />
<ellipse cx="23.67" cy="265.5" rx="0.95" ry="0.95" fill="#d2d2d2" transform="rotate(0 23.67 265.5)"/>
<ellipse cx="14.73" cy="263.09" rx="1.4" ry="1.4" fill="#c9a878" transform="rotate(0 14.73 263.09)"/>
<line x1="14.73" y1="263.09" x2="13.2" y2="266.24" stroke="#d8d0c0" stroke-width="0.7" />
<ellipse cx="13.2" cy="266.24" rx="0.95" ry="0.95" fill="#d2d2d2" transform="rotate(0 13.2 266.24)"/>
<ellipse cx="10.82" cy="257.29" rx="1.4" ry="1.4" fill="#c9a878" transform="rotate(0 10.82 257.29)"/>
<line x1="10.82" y1="257.29" x2="7.33" y2="257.53" stroke="#d8d0c0" stroke-width="0.7" />
<ellipse cx="7.33" cy="257.53" rx="0.95" ry="0.95" fill="#d2d2d2" transform="rotate(0 7.33 257.53)"/>
<ellipse cx="13.89" cy="251" rx="1.4" ry="1.4" fill="#c9a878" transform="rotate(0 13.89 251)"/>
<line x1="13.89" y1="251" x2="11.93" y2="248.1" stroke="#d8d0c0" stroke-width="0.7" />
<ellipse cx="11.93" cy="248.1" rx="0.95" ry="0.95" fill="#d2d2d2" transform="rotate(0 11.93 248.1)"/>
<line x1="20.87" y1="250.51" x2="25.1" y2="243.8" stroke="#c9a878" stroke-width="1.3" />
<ellipse cx="25.1" cy="243.8" rx="1.2" ry="1.2" fill="#8fe070" transform="rotate(0 25.1 243.8)"/>
<ellipse cx="20.2" cy="239" rx="3.54" ry="2.83" fill="url(#gCyB)" transform="rotate(-15 20.2 239)"/>
<ellipse cx="32.4" cy="239.8" rx="4.84" ry="8.14" fill="url(#gCyB)" transform="rotate(12 32.4 239.8)"/>
<ellipse cx="43.7" cy="242.2" rx="4.37" ry="8.73" fill="url(#gCyB)" transform="rotate(6 43.7 242.2)"/>
<ellipse cx="51.5" cy="239" rx="3.54" ry="4.84" fill="url(#gCyB)" transform="rotate(10 51.5 239)"/>
<ellipse cx="41.3" cy="235.6" rx="2.48" ry="1.65" fill="url(#gGrB)" transform="rotate(0 41.3 235.6)"/>
<ellipse cx="37.2" cy="247.1" rx="4.96" ry="3.89" fill="url(#gGrB)" transform="rotate(25 37.2 247.1)"/>
<ellipse cx="46.5" cy="251.9" rx="5.9" ry="5.9" fill="url(#gGrB)" transform="rotate(0 46.5 251.9)"/>
<ellipse cx="55.1" cy="251.1" rx="3.89" ry="4.37" fill="url(#gGrB)" transform="rotate(0 55.1 251.1)"/>
<ellipse cx="45.3" cy="260" rx="6.25" ry="5.9" fill="url(#gCyB)" transform="rotate(0 45.3 260)"/>
<ellipse cx="51" cy="264.1" rx="4.37" ry="3.89" fill="url(#gGrB)" transform="rotate(0 51 264.1)"/>
<ellipse cx="57.5" cy="263.3" rx="3.54" ry="3.78" fill="url(#gCyB)" transform="rotate(0 57.5 263.3)"/>
<ellipse cx="51" cy="272.2" rx="2.01" ry="3.54" fill="url(#gGrB)" transform="rotate(0 51 272.2)"/>
<ellipse cx="52.6" cy="233.3" rx="1.5" ry="1.4" fill="#c9a878" transform="rotate(0 52.6 233.3)"/>
<ellipse cx="50" cy="232.2" rx="0.9" ry="0.9" fill="#d2d2d2" transform="rotate(0 50 232.2)"/>
<ellipse cx="55.4" cy="233" rx="0.9" ry="0.9" fill="#d2d2d2" transform="rotate(0 55.4 233)"/>
<ellipse cx="52.8" cy="229.6" rx="1.3" ry="1.2" fill="url(#gCyB)" transform="rotate(0 52.8 229.6)"/>
<ellipse cx="58.6" cy="256" rx="1.6" ry="1.5" fill="#f0a0a8" transform="rotate(0 58.6 256)"/>
<ellipse cx="61" cy="254.8" rx="1.6" ry="1.4" fill="url(#gCyB)" transform="rotate(0 61 254.8)"/>
<ellipse cx="65.8" cy="256" rx="1.5" ry="1.3" fill="url(#gCyB)" transform="rotate(0 65.8 256)"/>
<ellipse cx="62.6" cy="258" rx="1.1" ry="1" fill="url(#gCyB)" transform="rotate(0 62.6 258)"/>
<ellipse cx="44.5" cy="269" rx="1.3" ry="1.2" fill="#c9a878" transform="rotate(0 44.5 269)"/>
<ellipse cx="42.4" cy="270.6" rx="0.8" ry="0.8" fill="#d2d2d2" transform="rotate(0 42.4 270.6)"/>
</g>
<line x1="74" y1="170.3" x2="228.7" y2="170.3" stroke="#2a2a2a" stroke-width="1.0" />
<line x1="74" y1="197.3" x2="228.7" y2="197.3" stroke="#2a2a2a" stroke-width="1.0" />
<line x1="74" y1="251.8" x2="228.7" y2="251.8" stroke="#2a2a2a" stroke-width="1.0" />
<text x="151.5" y="183.5" font-size="9.8" text-anchor="middle" fill="#151515" font-weight="normal" >Transition</text>
<text x="151.5" y="195" font-size="9.8" text-anchor="middle" fill="#151515" font-weight="normal" >Energy (eV)</text>
<text x="205.2" y="183.5" font-size="9.8" text-anchor="middle" fill="#151515" font-weight="normal" >SOCME</text>
<text x="205.2" y="195.0" font-size="9.8" text-anchor="middle" fill="#151515">(cm<tspan font-size="6" dy="-3.2">-1</tspan><tspan dy="3.2">)</tspan></text>
<text x="81.0" y="215.6" font-size="9.8" fill="#151515">T<tspan font-size="6.2" dy="2">2</tspan><tspan dy="-2"> – S</tspan><tspan font-size="6.2" dy="2">0</tspan></text>
<text x="81.0" y="241.7" font-size="9.8" fill="#151515">T<tspan font-size="6.2" dy="2">1</tspan><tspan dy="-2"> – S</tspan><tspan font-size="6.2" dy="2">0</tspan></text>
<text x="151.5" y="215.6" font-size="9.8" text-anchor="middle" fill="#151515" font-weight="normal" >2.98</text>
<text x="205.2" y="215.6" font-size="9.8" text-anchor="middle" fill="#151515" font-weight="normal" >32.03</text>
<text x="151.5" y="241.6" font-size="9.8" text-anchor="middle" fill="#151515" font-weight="normal" >2.78</text>
<text x="205.2" y="241.6" font-size="9.8" text-anchor="middle" fill="#151515" font-weight="normal" >6.93</text>
</g>
<g id="panelE">
<rect x="277.3" y="162.7" width="201.3" height="131.6" fill="none" stroke="#222" stroke-width="0.9"/>
<line x1="377.8" y1="162.7" x2="377.8" y2="294.3" stroke="#222" stroke-width="0.9" />
<line x1="274.7" y1="286.78" x2="277.3" y2="286.78" stroke="#222" stroke-width="0.7" />
<text x="273.8" y="290.88" font-size="9.0" text-anchor="end" fill="#111" font-weight="normal" >2.2</text>
<line x1="274.7" y1="271.27" x2="277.3" y2="271.27" stroke="#222" stroke-width="0.7" />
<text x="273.8" y="275.37" font-size="9.0" text-anchor="end" fill="#111" font-weight="normal" >2.4</text>
<line x1="274.7" y1="255.76" x2="277.3" y2="255.76" stroke="#222" stroke-width="0.7" />
<text x="273.8" y="259.86" font-size="9.0" text-anchor="end" fill="#111" font-weight="normal" >2.6</text>
<line x1="274.7" y1="240.25" x2="277.3" y2="240.25" stroke="#222" stroke-width="0.7" />
<text x="273.8" y="244.35" font-size="9.0" text-anchor="end" fill="#111" font-weight="normal" >2.8</text>
<line x1="274.7" y1="224.74" x2="277.3" y2="224.74" stroke="#222" stroke-width="0.7" />
<text x="273.8" y="228.84" font-size="9.0" text-anchor="end" fill="#111" font-weight="normal" >3.0</text>
<line x1="274.7" y1="209.23" x2="277.3" y2="209.23" stroke="#222" stroke-width="0.7" />
<text x="273.8" y="213.33" font-size="9.0" text-anchor="end" fill="#111" font-weight="normal" >3.2</text>
<line x1="274.7" y1="193.72" x2="277.3" y2="193.72" stroke="#222" stroke-width="0.7" />
<text x="273.8" y="197.82" font-size="9.0" text-anchor="end" fill="#111" font-weight="normal" >3.4</text>
<line x1="274.7" y1="178.21" x2="277.3" y2="178.21" stroke="#222" stroke-width="0.7" />
<text x="273.8" y="182.31" font-size="9.0" text-anchor="end" fill="#111" font-weight="normal" >3.6</text>
<line x1="274.7" y1="162.7" x2="277.3" y2="162.7" stroke="#222" stroke-width="0.7" />
<text x="273.8" y="166.8" font-size="9.0" text-anchor="end" fill="#111" font-weight="normal" >3.8</text>
<line x1="275.8" y1="279.02" x2="277.3" y2="279.02" stroke="#222" stroke-width="0.6" />
<line x1="275.8" y1="263.51" x2="277.3" y2="263.51" stroke="#222" stroke-width="0.6" />
<line x1="275.8" y1="248" x2="277.3" y2="248" stroke="#222" stroke-width="0.6" />
<line x1="275.8" y1="232.49" x2="277.3" y2="232.49" stroke="#222" stroke-width="0.6" />
<line x1="275.8" y1="216.98" x2="277.3" y2="216.98" stroke="#222" stroke-width="0.6" />
<line x1="275.8" y1="201.47" x2="277.3" y2="201.47" stroke="#222" stroke-width="0.6" />
<line x1="275.8" y1="185.96" x2="277.3" y2="185.96" stroke="#222" stroke-width="0.6" />
<line x1="275.8" y1="170.45" x2="277.3" y2="170.45" stroke="#222" stroke-width="0.6" />
<text transform="translate(255.6 223.2) rotate(-90)" font-size="11.3" text-anchor="middle" fill="#111">Energy (eV)</text>
<text x="301.2" y="174.4" font-size="9.7" fill="#ff2a2a">T<tspan font-size="6.4" dy="2.1">1</tspan><tspan dy="-2.1"> geometry</tspan></text>
<line x1="286.1" y1="195.3" x2="319.4" y2="195.3" stroke="#1e9be6" stroke-width="1.1" />
<text x="297.6" y="208.6" font-size="10.2" fill="#111">S<tspan font-size="6.7" dy="1.8">1</tspan></text>
<line x1="336.2" y1="193.2" x2="369.5" y2="193.2" stroke="#ff2c2c" stroke-width="1.15" />
<text x="351.0" y="190.0" font-size="10.2" fill="#111">T<tspan font-size="6.7" dy="1.8">4</tspan></text>
<line x1="336.2" y1="221.2" x2="369.5" y2="221.2" stroke="#ff2c2c" stroke-width="1.15" />
<text x="351.0" y="218.0" font-size="10.2" fill="#111">T<tspan font-size="6.7" dy="1.8">3</tspan></text>
<line x1="336.2" y1="229.4" x2="369.5" y2="229.4" stroke="#ff2c2c" stroke-width="1.15" />
<text x="351.0" y="241.0" font-size="10.2" fill="#111">T<tspan font-size="6.7" dy="1.8">2</tspan></text>
<line x1="336.2" y1="281.6" x2="369.5" y2="281.6" stroke="#ff2c2c" stroke-width="1.15" />
<text x="351.0" y="291.2" font-size="10.2" fill="#111">T<tspan font-size="6.7" dy="1.8">1</tspan></text>
<line x1="336" y1="281.4" x2="319.09" y2="201.07" stroke="#707070" stroke-width="1.0" />
<path d="M318 195.9 L323.63 203.71 L319.27 201.93 L316 205.31 Z" fill="#808080"/>
<line x1="335.6" y1="229.6" x2="325.02" y2="200.86" stroke="#707070" stroke-width="1.0" />
<path d="M323.2 195.9 L329.9 202.81 L325.33 201.68 L322.58 205.51 Z" fill="#808080"/>
<g transform="rotate(-18 327.7 211.4)"><line x1="323.2" y1="206.9" x2="332.2" y2="215.9" stroke="#ff2020" stroke-width="1.6"/><line x1="323.2" y1="215.9" x2="332.2" y2="206.9" stroke="#ff2020" stroke-width="1.6"/></g>
<g transform="rotate(-18 327.3 244.5)"><line x1="322.8" y1="240.0" x2="331.8" y2="249.0" stroke="#ff2020" stroke-width="1.6"/><line x1="322.8" y1="249.0" x2="331.8" y2="240.0" stroke="#ff2020" stroke-width="1.6"/></g>
<text x="405.0" y="173.5" font-size="9.7" fill="#2a2aff">T<tspan font-size="6.4" dy="2.1">2</tspan><tspan dy="-2.1"> geometry</tspan></text>
<line x1="386.1" y1="204.4" x2="420.6" y2="204.4" stroke="#1e9be6" stroke-width="1.1" />
<text x="400.6" y="215.3" font-size="10.2" fill="#111">S<tspan font-size="6.7" dy="1.8">1</tspan></text>
<line x1="436.6" y1="196.6" x2="470" y2="196.6" stroke="#ff2c2c" stroke-width="1.15" />
<text x="449.8" y="193.4" font-size="10.2" fill="#111">T<tspan font-size="6.7" dy="1.8">5</tspan></text>
<line x1="436.6" y1="209.5" x2="470" y2="209.5" stroke="#ff2c2c" stroke-width="1.15" />
<text x="449.8" y="207.0" font-size="10.2" fill="#111">T<tspan font-size="6.7" dy="1.8">4</tspan></text>
<line x1="436.6" y1="224.4" x2="470" y2="224.4" stroke="#ff2c2c" stroke-width="1.15" />
<text x="449.8" y="221.2" font-size="10.2" fill="#111">T<tspan font-size="6.7" dy="1.8">3</tspan></text>
<line x1="436.6" y1="249.2" x2="470" y2="249.2" stroke="#ff2c2c" stroke-width="1.15" />
<text x="449.8" y="245.3" font-size="10.2" fill="#111">T<tspan font-size="6.7" dy="1.8">2</tspan></text>
<line x1="436.6" y1="259.3" x2="470" y2="259.3" stroke="#ff2c2c" stroke-width="1.15" />
<text x="449.8" y="273.0" font-size="10.2" fill="#111">T<tspan font-size="6.7" dy="1.8">1</tspan></text>
<line x1="436.6" y1="259.3" x2="421.82" y2="210.26" stroke="#707070" stroke-width="1.0" />
<path d="M420.3 205.2 L426.57 212.5 L422.08 211.1 L419.1 214.75 Z" fill="#808080"/>
<line x1="436.4" y1="249.2" x2="423.1" y2="210.2" stroke="#707070" stroke-width="1.0" />
<path d="M421.4 205.2 L427.93 212.27 L423.39 211.03 L420.55 214.79 Z" fill="#808080"/>
<g transform="rotate(-18 425.9 219.5)"><line x1="421.4" y1="215.0" x2="430.4" y2="224.0" stroke="#ff2020" stroke-width="1.6"/><line x1="421.4" y1="224.0" x2="430.4" y2="215.0" stroke="#ff2020" stroke-width="1.6"/></g>
<g transform="rotate(-18 430.8 241.6)"><line x1="426.3" y1="237.1" x2="435.3" y2="246.1" stroke="#ff2020" stroke-width="1.6"/><line x1="426.3" y1="246.1" x2="435.3" y2="237.1" stroke="#ff2020" stroke-width="1.6"/></g>
</g>
<g id="panelF">
<g clip-path="url(#clipF)" fill="none" stroke-width="1.5" stroke-linejoin="round">
<path d="M525.35 272.9 L525.85 272.31 L526.35 271.68 L526.85 271.02 L527.35 270.33 L527.84 269.56 L528.34 268.66 L528.84 267.66 L529.34 266.58 L529.84 265.43 L530.34 264.23 L530.84 262.99 L531.34 261.74 L531.83 260.48 L532.33 259.2 L532.83 257.83 L533.33 256.37 L533.83 254.85 L534.33 253.3 L534.83 251.75 L535.33 250.22 L535.83 248.74 L536.32 247.33 L536.82 246.01 L537.32 244.72 L537.82 243.42 L538.32 242.15 L538.82 240.92 L539.32 239.79 L539.82 238.76 L540.31 237.89 L540.81 237.15 L541.31 236.43 L541.81 235.72 L542.31 235.09 L542.81 234.58 L543.31 234.22 L543.81 234.07 L544.31 234.1 L544.8 234.21 L545.3 234.38 L545.8 234.61 L546.3 234.86 L546.8 235.13 L547.3 235.4 L547.8 235.73 L548.3 236.14 L548.79 236.6 L549.29 237.1 L549.79 237.62 L550.29 238.14 L550.79 238.64 L551.29 239.1 L551.79 239.56 L552.29 240.03 L552.79 240.5 L553.28 240.96 L553.78 241.38 L554.28 241.64 L554.78 241.77 L555.28 241.8 L555.78 241.72 L556.28 241.54 L556.78 241.27 L557.28 240.57 L557.77 239.32 L558.27 237.68 L558.77 235.77 L559.27 233.75 L559.77 231.7 L560.27 229.36 L560.77 226.73 L561.27 223.9 L561.76 220.96 L562.26 218.01 L562.76 215.11 L563.26 212.02 L563.76 208.75 L564.26 205.46 L564.76 202.31 L565.26 199.48 L565.76 197.13 L566.25 195.11 L566.75 193.21 L567.25 191.48 L567.75 189.93 L568.25 188.58 L568.75 187.47 L569.25 186.6 L569.75 185.86 L570.24 185.24 L570.74 184.72 L571.24 184.31 L571.74 183.99 L572.24 183.74 L572.74 183.46 L573.24 183.25 L573.74 183.2 L574.24 183.41 L574.73 183.79 L575.23 184.18 L575.73 184.55 L576.23 184.92 L576.73 185.28 L577.23 185.63 L577.73 186.04 L578.23 186.54 L578.72 187.09 L579.22 187.68 L579.72 188.28 L580.22 188.9 L580.72 189.62 L581.22 190.44 L581.72 191.33 L582.22 192.27 L582.72 193.25 L583.21 194.29 L583.71 195.43 L584.21 196.67 L584.71 197.98 L585.21 199.33 L585.71 200.69 L586.21 202.1 L586.71 203.58 L587.2 205.11 L587.7 206.68 L588.2 208.25 L588.7 209.83 L589.2 211.37 L589.7 212.9 L590.2 214.45 L590.7 216.03 L591.2 217.63 L591.69 219.21 L592.19 220.77 L592.69 222.27 L593.19 223.72 L593.69 225.08 L594.19 226.36 L594.69 227.61 L595.19 228.84 L595.68 230.03 L596.18 231.18 L596.68 232.31 L597.18 233.4 L597.68 234.45 L598.18 235.47 L598.68 236.46 L599.18 237.41 L599.68 238.32 L600.17 239.2 L600.67 240.05 L601.17 240.87 L601.67 241.67 L602.17 242.44 L602.67 243.19 L603.17 243.92 L603.67 244.63 L604.17 245.33 L604.66 246.02 L605.16 246.71 L605.66 247.39 L606.16 248.05 L606.66 248.71 L607.16 249.34 L607.66 249.97 L608.16 250.58 L608.65 251.19 L609.15 251.78 L609.65 252.37 L610.15 252.95 L610.65 253.53 L611.15 254.11 L611.65 254.68 L612.15 255.25 L612.65 255.81 L613.14 256.37 L613.64 256.92 L614.14 257.46 L614.64 257.99 L615.14 258.52 L615.64 259.03 L616.14 259.53 L616.64 260.02 L617.13 260.5 L617.63 260.97 L618.13 261.43 L618.63 261.89 L619.13 262.35 L619.63 262.81 L620.13 263.27 L620.63 263.72 L621.13 264.17 L621.62 264.6 L622.12 265.03 L622.62 265.45 L623.12 265.85 L623.62 266.24 L624.12 266.62 L624.62 266.97 L625.12 267.31 L625.61 267.64 L626.11 267.96 L626.61 268.27 L627.11 268.57 L627.61 268.87 L628.11 269.15 L628.61 269.43 L629.11 269.7 L629.61 269.95 L630.1 270.2 L630.6 270.44 L631.1 270.66 L631.6 270.88 L632.1 271.08 L632.6 271.28 L633.1 271.48 L633.6 271.67 L634.09 271.86 L634.59 272.04 L635.09 272.22 L635.59 272.39 L636.09 272.56 L636.59 272.73 L637.09 272.89 L637.59 273.04 L638.09 273.19 L638.58 273.33 L639.08 273.47 L639.58 273.6 L640.08 273.73 L640.58 273.85 L641.08 273.97 L641.58 274.08 L642.08 274.19 L642.57 274.29 L643.07 274.4 L643.57 274.5 L644.07 274.6 L644.57 274.69 L645.07 274.78 L645.57 274.87 L646.07 274.96 L646.57 275.04 L647.06 275.12 L647.56 275.2 L648.06 275.28 L648.56 275.35 L649.06 275.42 L649.56 275.48 L650.06 275.54 L650.56 275.6 L651.06 275.66 L651.55 275.71 L652.05 275.76 L652.55 275.82 L653.05 275.87 L653.55 275.92 L654.05 275.97 L654.55 276.01 L655.05 276.06 L655.54 276.1 L656.04 276.15 L656.54 276.19 L657.04 276.23 L657.54 276.27 L658.04 276.31 L658.54 276.35 L659.04 276.38 L659.54 276.41 L660.03 276.45 L660.53 276.48 L661.03 276.51 L661.53 276.54 L662.03 276.56 L662.53 276.59 L663.03 276.61 L663.53 276.64 L664.02 276.66 L664.52 276.68 L665.02 276.7 L665.52 276.73 L666.02 276.75 L666.52 276.77 L667.02 276.79 L667.52 276.81 L668.02 276.83 L668.51 276.85 L669.01 276.87 L669.51 276.88 L670.01 276.9 L670.51 276.91 L671.01 276.93 L671.51 276.94 L672.01 276.95 L672.5 276.97 L673 276.97 L673.5 276.98 L674 276.99 L674.5 277" stroke="#ff2020"/>
<path d="M525.35 274.37 L525.85 273.97 L526.35 273.54 L526.85 273.1 L527.35 272.64 L527.84 272.11 L528.34 271.51 L528.84 270.84 L529.34 270.11 L529.84 269.34 L530.34 268.53 L530.84 267.69 L531.34 266.85 L531.83 266 L532.33 265.14 L532.83 264.21 L533.33 263.23 L533.83 262.2 L534.33 261.16 L534.83 260.12 L535.33 259.08 L535.83 258.08 L536.32 257.13 L536.82 256.25 L537.32 255.38 L537.82 254.5 L538.32 253.64 L538.82 252.82 L539.32 252.05 L539.82 251.36 L540.31 250.77 L540.81 250.28 L541.31 249.79 L541.81 249.31 L542.31 248.89 L542.81 248.54 L543.31 248.3 L543.81 248.2 L544.31 248.22 L544.8 248.29 L545.3 248.41 L545.8 248.56 L546.3 248.73 L546.8 248.92 L547.3 249.1 L547.8 249.31 L548.3 249.58 L548.79 249.88 L549.29 250.2 L549.79 250.53 L550.29 250.85 L550.79 251.16 L551.29 251.44 L551.79 251.72 L552.29 251.99 L552.79 252.27 L553.28 252.54 L553.78 252.79 L554.28 252.9 L554.78 252.86 L555.28 252.69 L555.78 252.41 L556.28 252.02 L556.78 251.53 L557.28 250.78 L557.77 249.43 L558.27 247.6 L558.77 245.45 L559.27 243.12 L559.77 240.76 L560.27 238.21 L560.77 235.33 L561.27 232.19 L561.76 228.91 L562.26 225.58 L562.76 222.29 L563.26 218.93 L563.76 215.32 L564.26 211.63 L564.76 208.03 L565.26 204.7 L565.76 201.8 L566.25 199.38 L566.75 197.13 L567.25 195.03 L567.75 193.12 L568.25 191.41 L568.75 189.94 L569.25 188.74 L569.75 187.73 L570.24 186.84 L570.74 186.07 L571.24 185.41 L571.74 184.86 L572.24 184.42 L572.74 183.96 L573.24 183.54 L573.74 183.25 L574.24 183.2 L574.73 183.42 L575.23 183.68 L575.73 183.93 L576.23 184.18 L576.73 184.42 L577.23 184.66 L577.73 184.9 L578.23 185.23 L578.72 185.64 L579.22 186.11 L579.72 186.61 L580.22 187.13 L580.72 187.68 L581.22 188.34 L581.72 189.1 L582.22 189.93 L582.72 190.81 L583.21 191.74 L583.71 192.73 L584.21 193.83 L584.71 195.04 L585.21 196.3 L585.71 197.61 L586.21 198.94 L586.71 200.32 L587.2 201.78 L587.7 203.29 L588.2 204.84 L588.7 206.41 L589.2 207.97 L589.7 209.52 L590.2 211.04 L590.7 212.6 L591.2 214.19 L591.69 215.79 L592.19 217.38 L592.69 218.95 L593.19 220.47 L593.69 221.92 L594.19 223.3 L594.69 224.59 L595.19 225.85 L595.68 227.08 L596.18 228.27 L596.68 229.44 L597.18 230.57 L597.68 231.67 L598.18 232.73 L598.68 233.76 L599.18 234.75 L599.68 235.71 L600.17 236.63 L600.67 237.52 L601.17 238.38 L601.67 239.21 L602.17 240.01 L602.67 240.79 L603.17 241.55 L603.67 242.29 L604.17 243.01 L604.66 243.72 L605.16 244.43 L605.66 245.12 L606.16 245.8 L606.66 246.48 L607.16 247.14 L607.66 247.79 L608.16 248.42 L608.65 249.04 L609.15 249.65 L609.65 250.25 L610.15 250.85 L610.65 251.44 L611.15 252.02 L611.65 252.6 L612.15 253.18 L612.65 253.76 L613.14 254.33 L613.64 254.89 L614.14 255.45 L614.64 256.01 L615.14 256.55 L615.64 257.09 L616.14 257.62 L616.64 258.14 L617.13 258.65 L617.63 259.15 L618.13 259.64 L618.63 260.12 L619.13 260.6 L619.63 261.09 L620.13 261.57 L620.63 262.05 L621.13 262.52 L621.62 262.99 L622.12 263.46 L622.62 263.91 L623.12 264.36 L623.62 264.79 L624.12 265.21 L624.62 265.62 L625.12 266.01 L625.61 266.38 L626.11 266.73 L626.61 267.07 L627.11 267.41 L627.61 267.73 L628.11 268.05 L628.61 268.35 L629.11 268.65 L629.61 268.94 L630.1 269.22 L630.6 269.49 L631.1 269.75 L631.6 270 L632.1 270.23 L632.6 270.46 L633.1 270.68 L633.6 270.89 L634.09 271.09 L634.59 271.29 L635.09 271.49 L635.59 271.68 L636.09 271.87 L636.59 272.05 L637.09 272.23 L637.59 272.4 L638.09 272.57 L638.58 272.73 L639.08 272.89 L639.58 273.04 L640.08 273.19 L640.58 273.33 L641.08 273.46 L641.58 273.59 L642.08 273.72 L642.57 273.84 L643.07 273.95 L643.57 274.06 L644.07 274.17 L644.57 274.28 L645.07 274.38 L645.57 274.48 L646.07 274.58 L646.57 274.67 L647.06 274.77 L647.56 274.85 L648.06 274.94 L648.56 275.02 L649.06 275.1 L649.56 275.18 L650.06 275.25 L650.56 275.32 L651.06 275.39 L651.55 275.45 L652.05 275.51 L652.55 275.57 L653.05 275.63 L653.55 275.68 L654.05 275.74 L654.55 275.79 L655.05 275.84 L655.54 275.89 L656.04 275.94 L656.54 275.99 L657.04 276.04 L657.54 276.08 L658.04 276.13 L658.54 276.17 L659.04 276.21 L659.54 276.25 L660.03 276.29 L660.53 276.32 L661.03 276.36 L661.53 276.39 L662.03 276.43 L662.53 276.46 L663.03 276.49 L663.53 276.51 L664.02 276.54 L664.52 276.56 L665.02 276.59 L665.52 276.61 L666.02 276.64 L666.52 276.66 L667.02 276.68 L667.52 276.71 L668.02 276.73 L668.51 276.75 L669.01 276.77 L669.51 276.79 L670.01 276.81 L670.51 276.83 L671.01 276.85 L671.51 276.87 L672.01 276.88 L672.5 276.9 L673 276.91 L673.5 276.92 L674 276.94 L674.5 276.95" stroke="#ff7838"/>
<path d="M525.35 275.3 L525.85 275.02 L526.35 274.72 L526.85 274.42 L527.35 274.1 L527.84 273.73 L528.34 273.32 L528.84 272.85 L529.34 272.34 L529.84 271.81 L530.34 271.25 L530.84 270.67 L531.34 270.08 L531.83 269.49 L532.33 268.9 L532.83 268.25 L533.33 267.57 L533.83 266.86 L534.33 266.14 L534.83 265.41 L535.33 264.7 L535.83 264 L536.32 263.34 L536.82 262.73 L537.32 262.13 L537.82 261.52 L538.32 260.92 L538.82 260.35 L539.32 259.82 L539.82 259.34 L540.31 258.93 L540.81 258.59 L541.31 258.25 L541.81 257.92 L542.31 257.63 L542.81 257.38 L543.31 257.22 L543.81 257.15 L544.31 257.16 L544.8 257.21 L545.3 257.29 L545.8 257.4 L546.3 257.52 L546.8 257.65 L547.3 257.77 L547.8 257.92 L548.3 258.1 L548.79 258.3 L549.29 258.51 L549.79 258.72 L550.29 258.93 L550.79 259.12 L551.29 259.29 L551.79 259.45 L552.29 259.61 L552.79 259.77 L553.28 259.92 L553.78 260.06 L554.28 260.13 L554.78 260.04 L555.28 259.81 L555.78 259.44 L556.28 258.95 L556.78 258.36 L557.28 257.66 L557.77 256.47 L558.27 254.7 L558.77 252.51 L559.27 250.06 L559.77 247.49 L560.27 244.9 L560.77 241.97 L561.27 238.74 L561.76 235.3 L562.26 231.75 L562.76 228.18 L563.26 224.68 L563.76 220.96 L564.26 217.06 L564.76 213.14 L565.26 209.39 L565.76 205.99 L566.25 203.12 L566.75 200.58 L567.25 198.2 L567.75 195.99 L568.25 193.98 L568.75 192.2 L569.25 190.68 L569.75 189.42 L570.24 188.32 L570.74 187.34 L571.24 186.48 L571.74 185.74 L572.24 185.12 L572.74 184.57 L573.24 184 L573.74 183.52 L574.24 183.22 L574.73 183.2 L575.23 183.38 L575.73 183.55 L576.23 183.72 L576.73 183.89 L577.23 184.06 L577.73 184.21 L578.23 184.38 L578.72 184.64 L579.22 184.97 L579.72 185.37 L580.22 185.81 L580.72 186.27 L581.22 186.75 L581.72 187.34 L582.22 188.02 L582.72 188.78 L583.21 189.6 L583.71 190.47 L584.21 191.38 L584.71 192.41 L585.21 193.54 L585.71 194.74 L586.21 196 L586.71 197.28 L587.2 198.59 L587.7 199.99 L588.2 201.45 L588.7 202.95 L589.2 204.48 L589.7 206.03 L590.2 207.57 L590.7 209.09 L591.2 210.6 L591.69 212.15 L592.19 213.73 L592.69 215.32 L593.19 216.89 L593.69 218.43 L594.19 219.92 L594.69 221.34 L595.19 222.67 L595.68 223.94 L596.18 225.17 L596.68 226.38 L597.18 227.55 L597.68 228.7 L598.18 229.81 L598.68 230.89 L599.18 231.93 L599.68 232.95 L600.17 233.92 L600.67 234.87 L601.17 235.77 L601.67 236.65 L602.17 237.5 L602.67 238.32 L603.17 239.11 L603.67 239.88 L604.17 240.64 L604.66 241.37 L605.16 242.09 L605.66 242.8 L606.16 243.5 L606.66 244.18 L607.16 244.86 L607.66 245.54 L608.16 246.2 L608.65 246.84 L609.15 247.47 L609.65 248.09 L610.15 248.7 L610.65 249.29 L611.15 249.88 L611.65 250.47 L612.15 251.05 L612.65 251.62 L613.14 252.2 L613.64 252.77 L614.14 253.34 L614.64 253.9 L615.14 254.46 L615.64 255.01 L616.14 255.56 L616.64 256.1 L617.13 256.63 L617.63 257.16 L618.13 257.67 L618.63 258.18 L619.13 258.69 L619.63 259.18 L620.13 259.67 L620.63 260.16 L621.13 260.64 L621.62 261.13 L622.12 261.62 L622.62 262.1 L623.12 262.57 L623.62 263.04 L624.12 263.5 L624.62 263.95 L625.12 264.39 L625.61 264.81 L626.11 265.22 L626.61 265.62 L627.11 266 L627.61 266.36 L628.11 266.7 L628.61 267.04 L629.11 267.37 L629.61 267.69 L630.1 268 L630.6 268.31 L631.1 268.6 L631.6 268.88 L632.1 269.16 L632.6 269.42 L633.1 269.68 L633.6 269.92 L634.09 270.15 L634.59 270.38 L635.09 270.59 L635.59 270.8 L636.09 271.01 L636.59 271.21 L637.09 271.4 L637.59 271.6 L638.09 271.78 L638.58 271.97 L639.08 272.14 L639.58 272.32 L640.08 272.48 L640.58 272.65 L641.08 272.8 L641.58 272.95 L642.08 273.1 L642.57 273.24 L643.07 273.38 L643.57 273.51 L644.07 273.63 L644.57 273.75 L645.07 273.86 L645.57 273.97 L646.07 274.08 L646.57 274.19 L647.06 274.29 L647.56 274.4 L648.06 274.49 L648.56 274.59 L649.06 274.68 L649.56 274.77 L650.06 274.86 L650.56 274.94 L651.06 275.03 L651.55 275.1 L652.05 275.18 L652.55 275.25 L653.05 275.32 L653.55 275.38 L654.05 275.44 L654.55 275.5 L655.05 275.56 L655.54 275.62 L656.04 275.67 L656.54 275.72 L657.04 275.78 L657.54 275.83 L658.04 275.88 L658.54 275.93 L659.04 275.98 L659.54 276.02 L660.03 276.07 L660.53 276.11 L661.03 276.15 L661.53 276.19 L662.03 276.23 L662.53 276.27 L663.03 276.31 L663.53 276.34 L664.02 276.38 L664.52 276.41 L665.02 276.44 L665.52 276.47 L666.02 276.49 L666.52 276.52 L667.02 276.55 L667.52 276.57 L668.02 276.59 L668.51 276.62 L669.01 276.64 L669.51 276.67 L670.01 276.69 L670.51 276.71 L671.01 276.73 L671.51 276.76 L672.01 276.78 L672.5 276.8 L673 276.81 L673.5 276.83 L674 276.85 L674.5 276.87" stroke="#ffa63c"/>
<path d="M525.35 275.74 L525.85 275.52 L526.35 275.28 L526.85 275.04 L527.35 274.79 L527.84 274.5 L528.34 274.17 L528.84 273.8 L529.34 273.4 L529.84 272.98 L530.34 272.53 L530.84 272.08 L531.34 271.61 L531.83 271.15 L532.33 270.68 L532.83 270.17 L533.33 269.63 L533.83 269.07 L534.33 268.5 L534.83 267.92 L535.33 267.36 L535.83 266.81 L536.32 266.29 L536.82 265.8 L537.32 265.32 L537.82 264.84 L538.32 264.37 L538.82 263.92 L539.32 263.5 L539.82 263.12 L540.31 262.8 L540.81 262.53 L541.31 262.26 L541.81 262 L542.31 261.76 L542.81 261.57 L543.31 261.44 L543.81 261.39 L544.31 261.4 L544.8 261.44 L545.3 261.5 L545.8 261.58 L546.3 261.68 L546.8 261.78 L547.3 261.89 L547.8 262 L548.3 262.15 L548.79 262.3 L549.29 262.46 L549.79 262.63 L550.29 262.78 L550.79 262.92 L551.29 263.04 L551.79 263.15 L552.29 263.26 L552.79 263.36 L553.28 263.45 L553.78 263.54 L554.28 263.61 L554.78 263.55 L555.28 263.34 L555.78 262.98 L556.28 262.49 L556.78 261.88 L557.28 261.16 L557.77 260.24 L558.27 258.7 L558.77 256.65 L559.27 254.23 L559.77 251.62 L560.27 248.94 L560.77 246.14 L561.27 242.97 L561.76 239.53 L562.26 235.92 L562.76 232.24 L563.26 228.59 L563.76 224.93 L564.26 221 L564.76 216.95 L565.26 212.96 L565.76 209.23 L566.25 205.93 L566.75 203.16 L567.25 200.59 L567.75 198.19 L568.25 195.97 L568.75 193.97 L569.25 192.22 L569.75 190.73 L570.24 189.48 L570.74 188.37 L571.24 187.37 L571.74 186.5 L572.24 185.76 L572.74 185.12 L573.24 184.51 L573.74 183.91 L574.24 183.44 L574.73 183.2 L575.23 183.27 L575.73 183.4 L576.23 183.54 L576.73 183.67 L577.23 183.8 L577.73 183.93 L578.23 184.05 L578.72 184.18 L579.22 184.39 L579.72 184.69 L580.22 185.05 L580.72 185.45 L581.22 185.88 L581.72 186.32 L582.22 186.85 L582.72 187.49 L583.21 188.2 L583.71 188.98 L584.21 189.8 L584.71 190.66 L585.21 191.62 L585.71 192.69 L586.21 193.84 L586.71 195.04 L587.2 196.29 L587.7 197.55 L588.2 198.88 L588.7 200.28 L589.2 201.74 L589.7 203.23 L590.2 204.74 L590.7 206.26 L591.2 207.77 L591.69 209.25 L592.19 210.76 L592.69 212.3 L593.19 213.86 L593.69 215.42 L594.19 216.96 L594.69 218.46 L595.19 219.91 L595.68 221.28 L596.18 222.57 L596.68 223.81 L597.18 225.02 L597.68 226.19 L598.18 227.34 L598.68 228.46 L599.18 229.55 L599.68 230.61 L600.17 231.63 L600.67 232.62 L601.17 233.58 L601.67 234.51 L602.17 235.4 L602.67 236.26 L603.17 237.09 L603.67 237.89 L604.17 238.68 L604.66 239.44 L605.16 240.18 L605.66 240.91 L606.16 241.62 L606.66 242.32 L607.16 243.01 L607.66 243.69 L608.16 244.36 L608.65 245.02 L609.15 245.68 L609.65 246.31 L610.15 246.94 L610.65 247.55 L611.15 248.15 L611.65 248.74 L612.15 249.32 L612.65 249.9 L613.14 250.47 L613.64 251.04 L614.14 251.6 L614.64 252.17 L615.14 252.73 L615.64 253.28 L616.14 253.84 L616.64 254.38 L617.13 254.93 L617.63 255.46 L618.13 255.99 L618.63 256.52 L619.13 257.04 L619.63 257.55 L620.13 258.05 L620.63 258.55 L621.13 259.04 L621.62 259.52 L622.12 260.01 L622.62 260.5 L623.12 260.98 L623.62 261.46 L624.12 261.94 L624.62 262.41 L625.12 262.88 L625.61 263.33 L626.11 263.78 L626.61 264.21 L627.11 264.64 L627.61 265.04 L628.11 265.44 L628.61 265.81 L629.11 266.17 L629.61 266.52 L630.1 266.85 L630.6 267.18 L631.1 267.5 L631.6 267.81 L632.1 268.12 L632.6 268.41 L633.1 268.7 L633.6 268.97 L634.09 269.24 L634.59 269.49 L635.09 269.74 L635.59 269.97 L636.09 270.2 L636.59 270.41 L637.09 270.62 L637.59 270.83 L638.09 271.03 L638.58 271.23 L639.08 271.42 L639.58 271.61 L640.08 271.79 L640.58 271.97 L641.08 272.15 L641.58 272.32 L642.08 272.48 L642.57 272.64 L643.07 272.79 L643.57 272.94 L644.07 273.09 L644.57 273.22 L645.07 273.36 L645.57 273.48 L646.07 273.61 L646.57 273.72 L647.06 273.84 L647.56 273.95 L648.06 274.05 L648.56 274.16 L649.06 274.26 L649.56 274.36 L650.06 274.46 L650.56 274.56 L651.06 274.65 L651.55 274.74 L652.05 274.83 L652.55 274.91 L653.05 274.99 L653.55 275.07 L654.05 275.14 L654.55 275.21 L655.05 275.28 L655.54 275.34 L656.04 275.41 L656.54 275.46 L657.04 275.52 L657.54 275.58 L658.04 275.63 L658.54 275.69 L659.04 275.74 L659.54 275.79 L660.03 275.84 L660.53 275.89 L661.03 275.94 L661.53 275.98 L662.03 276.03 L662.53 276.07 L663.03 276.12 L663.53 276.16 L664.02 276.2 L664.52 276.24 L665.02 276.27 L665.52 276.31 L666.02 276.34 L666.52 276.37 L667.02 276.41 L667.52 276.44 L668.02 276.46 L668.51 276.49 L669.01 276.52 L669.51 276.54 L670.01 276.57 L670.51 276.59 L671.01 276.61 L671.51 276.64 L672.01 276.66 L672.5 276.68 L673 276.71 L673.5 276.73 L674 276.75 L674.5 276.77" stroke="#ffe21e"/>
<path d="M525.35 276.08 L525.85 275.9 L526.35 275.72 L526.85 275.53 L527.35 275.33 L527.84 275.1 L528.34 274.84 L528.84 274.54 L529.34 274.23 L529.84 273.89 L530.34 273.54 L530.84 273.17 L531.34 272.8 L531.83 272.43 L532.33 272.06 L532.83 271.66 L533.33 271.23 L533.83 270.78 L534.33 270.33 L534.83 269.87 L535.33 269.42 L535.83 268.99 L536.32 268.57 L536.82 268.19 L537.32 267.81 L537.82 267.43 L538.32 267.05 L538.82 266.7 L539.32 266.36 L539.82 266.06 L540.31 265.8 L540.81 265.59 L541.31 265.38 L541.81 265.17 L542.31 264.98 L542.81 264.83 L543.31 264.73 L543.81 264.68 L544.31 264.69 L544.8 264.72 L545.3 264.78 L545.8 264.84 L546.3 264.92 L546.8 265 L547.3 265.08 L547.8 265.18 L548.3 265.29 L548.79 265.41 L549.29 265.53 L549.79 265.65 L550.29 265.77 L550.79 265.86 L551.29 265.94 L551.79 266.02 L552.29 266.08 L552.79 266.14 L553.28 266.19 L553.78 266.24 L554.28 266.27 L554.78 266.23 L555.28 266.02 L555.78 265.67 L556.28 265.17 L556.78 264.54 L557.28 263.81 L557.77 262.96 L558.27 261.6 L558.77 259.66 L559.27 257.3 L559.77 254.66 L560.27 251.92 L560.77 249.14 L561.27 246.02 L561.76 242.59 L562.26 238.95 L562.76 235.2 L563.26 231.44 L563.76 227.75 L564.26 223.82 L564.76 219.71 L565.26 215.59 L565.76 211.65 L566.25 208.08 L566.75 205.05 L567.25 202.36 L567.75 199.82 L568.25 197.46 L568.75 195.31 L569.25 193.4 L569.75 191.75 L570.24 190.37 L570.74 189.15 L571.24 188.06 L571.74 187.09 L572.24 186.25 L572.74 185.53 L573.24 184.89 L573.74 184.23 L574.24 183.66 L574.73 183.28 L575.23 183.2 L575.73 183.31 L576.23 183.42 L576.73 183.52 L577.23 183.63 L577.73 183.72 L578.23 183.82 L578.72 183.92 L579.22 184.04 L579.72 184.25 L580.22 184.54 L580.72 184.89 L581.22 185.28 L581.72 185.69 L582.22 186.12 L582.72 186.65 L583.21 187.28 L583.71 187.99 L584.21 188.75 L584.71 189.55 L585.21 190.4 L585.71 191.36 L586.21 192.41 L586.71 193.55 L587.2 194.74 L587.7 195.96 L588.2 197.21 L588.7 198.52 L589.2 199.91 L589.7 201.35 L590.2 202.82 L590.7 204.32 L591.2 205.83 L591.69 207.32 L592.19 208.78 L592.69 210.28 L593.19 211.8 L593.69 213.35 L594.19 214.89 L594.69 216.42 L595.19 217.91 L595.68 219.35 L596.18 220.72 L596.68 222.01 L597.18 223.24 L597.68 224.44 L598.18 225.61 L598.68 226.75 L599.18 227.87 L599.68 228.95 L600.17 230 L600.67 231.03 L601.17 232.02 L601.67 232.97 L602.17 233.9 L602.67 234.79 L603.17 235.65 L603.67 236.48 L604.17 237.29 L604.66 238.08 L605.16 238.84 L605.66 239.58 L606.16 240.31 L606.66 241.02 L607.16 241.72 L607.66 242.41 L608.16 243.08 L608.65 243.75 L609.15 244.41 L609.65 245.06 L610.15 245.7 L610.65 246.33 L611.15 246.94 L611.65 247.54 L612.15 248.13 L612.65 248.71 L613.14 249.28 L613.64 249.85 L614.14 250.41 L614.64 250.98 L615.14 251.53 L615.64 252.09 L616.14 252.65 L616.64 253.2 L617.13 253.74 L617.63 254.29 L618.13 254.82 L618.63 255.36 L619.13 255.89 L619.63 256.41 L620.13 256.92 L620.63 257.43 L621.13 257.94 L621.62 258.43 L622.12 258.92 L622.62 259.4 L623.12 259.89 L623.62 260.37 L624.12 260.86 L624.62 261.34 L625.12 261.81 L625.61 262.28 L626.11 262.75 L626.61 263.2 L627.11 263.64 L627.61 264.08 L628.11 264.5 L628.61 264.91 L629.11 265.3 L629.61 265.68 L630.1 266.03 L630.6 266.38 L631.1 266.71 L631.6 267.04 L632.1 267.36 L632.6 267.67 L633.1 267.98 L633.6 268.27 L634.09 268.56 L634.59 268.84 L635.09 269.1 L635.59 269.36 L636.09 269.61 L636.59 269.84 L637.09 270.07 L637.59 270.28 L638.09 270.5 L638.58 270.7 L639.08 270.9 L639.58 271.1 L640.08 271.3 L640.58 271.49 L641.08 271.67 L641.58 271.85 L642.08 272.03 L642.57 272.2 L643.07 272.36 L643.57 272.52 L644.07 272.68 L644.57 272.83 L645.07 272.98 L645.57 273.12 L646.07 273.25 L646.57 273.38 L647.06 273.5 L647.56 273.62 L648.06 273.74 L648.56 273.85 L649.06 273.96 L649.56 274.07 L650.06 274.17 L650.56 274.27 L651.06 274.37 L651.55 274.47 L652.05 274.56 L652.55 274.65 L653.05 274.74 L653.55 274.83 L654.05 274.91 L654.55 274.99 L655.05 275.06 L655.54 275.14 L656.04 275.21 L656.54 275.27 L657.04 275.34 L657.54 275.4 L658.04 275.46 L658.54 275.51 L659.04 275.57 L659.54 275.62 L660.03 275.68 L660.53 275.73 L661.03 275.78 L661.53 275.83 L662.03 275.88 L662.53 275.93 L663.03 275.97 L663.53 276.02 L664.02 276.06 L664.52 276.1 L665.02 276.15 L665.52 276.18 L666.02 276.22 L666.52 276.26 L667.02 276.3 L667.52 276.33 L668.02 276.36 L668.51 276.39 L669.01 276.42 L669.51 276.45 L670.01 276.48 L670.51 276.5 L671.01 276.53 L671.51 276.55 L672.01 276.58 L672.5 276.6 L673 276.63 L673.5 276.65 L674 276.67 L674.5 276.69" stroke="#86f000"/>
<path d="M525.35 276.37 L525.85 276.24 L526.35 276.09 L526.85 275.94 L527.35 275.79 L527.84 275.61 L528.34 275.41 L528.84 275.18 L529.34 274.93 L529.84 274.67 L530.34 274.39 L530.84 274.11 L531.34 273.83 L531.83 273.54 L532.33 273.25 L532.83 272.93 L533.33 272.6 L533.83 272.25 L534.33 271.9 L534.83 271.55 L535.33 271.2 L535.83 270.86 L536.32 270.54 L536.82 270.24 L537.32 269.94 L537.82 269.64 L538.32 269.35 L538.82 269.07 L539.32 268.81 L539.82 268.58 L540.31 268.38 L540.81 268.21 L541.31 268.05 L541.81 267.89 L542.31 267.74 L542.81 267.63 L543.31 267.54 L543.81 267.51 L544.31 267.52 L544.8 267.54 L545.3 267.58 L545.8 267.63 L546.3 267.69 L546.8 267.75 L547.3 267.82 L547.8 267.89 L548.3 267.97 L548.79 268.05 L549.29 268.14 L549.79 268.22 L550.29 268.29 L550.79 268.35 L551.29 268.39 L551.79 268.42 L552.29 268.45 L552.79 268.47 L553.28 268.48 L553.78 268.48 L554.28 268.47 L554.78 268.35 L555.28 268.07 L555.78 267.64 L556.28 267.06 L556.78 266.37 L557.28 265.57 L557.77 264.61 L558.27 263.07 L558.77 260.98 L559.27 258.49 L559.77 255.76 L560.27 252.95 L560.77 250.07 L561.27 246.82 L561.76 243.27 L562.26 239.53 L562.76 235.7 L563.26 231.88 L563.76 228.1 L564.26 224.06 L564.76 219.86 L565.26 215.69 L565.76 211.74 L566.25 208.19 L566.75 205.2 L567.25 202.48 L567.75 199.92 L568.25 197.54 L568.75 195.38 L569.25 193.46 L569.75 191.82 L570.24 190.44 L570.74 189.2 L571.24 188.1 L571.74 187.12 L572.24 186.27 L572.74 185.54 L573.24 184.85 L573.74 184.17 L574.24 183.6 L574.73 183.24 L575.23 183.2 L575.73 183.29 L576.23 183.37 L576.73 183.45 L577.23 183.53 L577.73 183.61 L578.23 183.68 L578.72 183.76 L579.22 183.89 L579.72 184.12 L580.22 184.42 L580.72 184.77 L581.22 185.15 L581.72 185.55 L582.22 186.01 L582.72 186.57 L583.21 187.22 L583.71 187.95 L584.21 188.72 L584.71 189.53 L585.21 190.42 L585.71 191.42 L586.21 192.52 L586.71 193.69 L587.2 194.9 L587.7 196.14 L588.2 197.42 L588.7 198.78 L589.2 200.2 L589.7 201.67 L590.2 203.18 L590.7 204.69 L591.2 206.21 L591.69 207.7 L592.19 209.18 L592.69 210.71 L593.19 212.26 L593.69 213.82 L594.19 215.37 L594.69 216.9 L595.19 218.38 L595.68 219.79 L596.18 221.13 L596.68 222.39 L597.18 223.61 L597.68 224.81 L598.18 225.97 L598.68 227.11 L599.18 228.22 L599.68 229.29 L600.17 230.33 L600.67 231.35 L601.17 232.33 L601.67 233.27 L602.17 234.19 L602.67 235.06 L603.17 235.92 L603.67 236.74 L604.17 237.54 L604.66 238.32 L605.16 239.07 L605.66 239.81 L606.16 240.54 L606.66 241.24 L607.16 241.94 L607.66 242.62 L608.16 243.3 L608.65 243.97 L609.15 244.63 L609.65 245.28 L610.15 245.92 L610.65 246.54 L611.15 247.15 L611.65 247.74 L612.15 248.33 L612.65 248.92 L613.14 249.49 L613.64 250.06 L614.14 250.63 L614.64 251.2 L615.14 251.77 L615.64 252.33 L616.14 252.89 L616.64 253.45 L617.13 254 L617.63 254.55 L618.13 255.09 L618.63 255.62 L619.13 256.16 L619.63 256.68 L620.13 257.2 L620.63 257.71 L621.13 258.21 L621.62 258.71 L622.12 259.2 L622.62 259.69 L623.12 260.19 L623.62 260.68 L624.12 261.16 L624.62 261.65 L625.12 262.13 L625.61 262.6 L626.11 263.06 L626.61 263.51 L627.11 263.95 L627.61 264.38 L628.11 264.79 L628.61 265.19 L629.11 265.57 L629.61 265.94 L630.1 266.29 L630.6 266.63 L631.1 266.96 L631.6 267.29 L632.1 267.6 L632.6 267.91 L633.1 268.21 L633.6 268.5 L634.09 268.78 L634.59 269.05 L635.09 269.31 L635.59 269.56 L636.09 269.8 L636.59 270.03 L637.09 270.25 L637.59 270.46 L638.09 270.67 L638.58 270.87 L639.08 271.07 L639.58 271.27 L640.08 271.46 L640.58 271.65 L641.08 271.83 L641.58 272.01 L642.08 272.18 L642.57 272.35 L643.07 272.51 L643.57 272.67 L644.07 272.82 L644.57 272.97 L645.07 273.11 L645.57 273.24 L646.07 273.37 L646.57 273.5 L647.06 273.62 L647.56 273.73 L648.06 273.85 L648.56 273.96 L649.06 274.07 L649.56 274.17 L650.06 274.27 L650.56 274.37 L651.06 274.47 L651.55 274.57 L652.05 274.66 L652.55 274.75 L653.05 274.83 L653.55 274.91 L654.05 274.99 L654.55 275.07 L655.05 275.14 L655.54 275.21 L656.04 275.28 L656.54 275.34 L657.04 275.4 L657.54 275.46 L658.04 275.52 L658.54 275.58 L659.04 275.63 L659.54 275.68 L660.03 275.74 L660.53 275.79 L661.03 275.84 L661.53 275.89 L662.03 275.93 L662.53 275.98 L663.03 276.03 L663.53 276.07 L664.02 276.11 L664.52 276.15 L665.02 276.19 L665.52 276.23 L666.02 276.27 L666.52 276.3 L667.02 276.34 L667.52 276.37 L668.02 276.4 L668.51 276.43 L669.01 276.46 L669.51 276.48 L670.01 276.51 L670.51 276.53 L671.01 276.56 L671.51 276.58 L672.01 276.61 L672.5 276.63 L673 276.66 L673.5 276.68 L674 276.7 L674.5 276.72" stroke="#20f060"/>
<path d="M525.35 276.62 L525.85 276.51 L526.35 276.4 L526.85 276.29 L527.35 276.17 L527.84 276.04 L528.34 275.88 L528.84 275.71 L529.34 275.52 L529.84 275.32 L530.34 275.11 L530.84 274.89 L531.34 274.68 L531.83 274.46 L532.33 274.24 L532.83 274 L533.33 273.74 L533.83 273.48 L534.33 273.21 L534.83 272.94 L535.33 272.67 L535.83 272.42 L536.32 272.17 L536.82 271.94 L537.32 271.72 L537.82 271.49 L538.32 271.27 L538.82 271.06 L539.32 270.86 L539.82 270.68 L540.31 270.53 L540.81 270.4 L541.31 270.27 L541.81 270.15 L542.31 270.04 L542.81 269.95 L543.31 269.89 L543.81 269.86 L544.31 269.87 L544.8 269.89 L545.3 269.92 L545.8 269.95 L546.3 269.98 L546.8 270 L547.3 270.01 L547.8 270.02 L548.3 270.04 L548.79 270.06 L549.29 270.07 L549.79 270.08 L550.29 270.08 L550.79 270.07 L551.29 270.04 L551.79 270 L552.29 269.96 L552.79 269.85 L553.28 269.58 L553.78 269.15 L554.28 268.58 L554.78 267.87 L555.28 267.06 L555.78 266.15 L556.28 264.79 L556.78 262.82 L557.28 260.4 L557.77 257.69 L558.27 254.85 L558.77 251.99 L559.27 248.81 L559.77 245.3 L560.27 241.57 L560.77 237.71 L561.27 233.84 L561.76 230.03 L562.26 226.03 L562.76 221.81 L563.26 217.57 L563.76 213.48 L564.26 209.75 L564.76 206.55 L565.26 203.74 L565.76 201.08 L566.25 198.61 L566.75 196.34 L567.25 194.32 L567.75 192.56 L568.25 191.08 L568.75 189.77 L569.25 188.6 L569.75 187.56 L570.24 186.65 L570.74 185.87 L571.24 185.17 L571.74 184.46 L572.24 183.82 L572.74 183.36 L573.24 183.2 L573.74 183.27 L574.24 183.34 L574.73 183.4 L575.23 183.47 L575.73 183.56 L576.23 183.78 L576.73 184.09 L577.23 184.48 L577.73 184.9 L578.23 185.35 L578.72 185.91 L579.22 186.6 L579.72 187.39 L580.22 188.25 L580.72 189.17 L581.22 190.19 L581.72 191.36 L582.22 192.64 L582.72 194 L583.21 195.41 L583.71 196.87 L584.21 198.42 L584.71 200.07 L585.21 201.77 L585.71 203.5 L586.21 205.24 L586.71 206.96 L587.2 208.66 L587.7 210.41 L588.2 212.19 L588.7 213.97 L589.2 215.74 L589.7 217.46 L590.2 219.1 L590.7 220.65 L591.2 222.09 L591.69 223.48 L592.19 224.85 L592.69 226.17 L593.19 227.45 L593.69 228.69 L594.19 229.9 L594.69 231.06 L595.19 232.18 L595.68 233.26 L596.18 234.29 L596.68 235.28 L597.18 236.24 L597.68 237.17 L598.18 238.06 L598.68 238.93 L599.18 239.77 L599.68 240.6 L600.17 241.4 L600.67 242.19 L601.17 242.97 L601.67 243.73 L602.17 244.49 L602.67 245.23 L603.17 245.95 L603.67 246.65 L604.17 247.34 L604.66 248.02 L605.16 248.69 L605.66 249.35 L606.16 250.01 L606.66 250.67 L607.16 251.32 L607.66 251.97 L608.16 252.62 L608.65 253.27 L609.15 253.91 L609.65 254.55 L610.15 255.18 L610.65 255.8 L611.15 256.41 L611.65 257.02 L612.15 257.61 L612.65 258.2 L613.14 258.77 L613.64 259.34 L614.14 259.91 L614.64 260.48 L615.14 261.05 L615.64 261.6 L616.14 262.15 L616.64 262.69 L617.13 263.22 L617.63 263.73 L618.13 264.23 L618.63 264.71 L619.13 265.16 L619.63 265.6 L620.13 266.01 L620.63 266.41 L621.13 266.79 L621.62 267.17 L622.12 267.54 L622.62 267.89 L623.12 268.23 L623.62 268.56 L624.12 268.88 L624.62 269.18 L625.12 269.47 L625.61 269.75 L626.11 270.01 L626.61 270.26 L627.11 270.5 L627.61 270.74 L628.11 270.97 L628.61 271.2 L629.11 271.42 L629.61 271.64 L630.1 271.85 L630.6 272.05 L631.1 272.24 L631.6 272.43 L632.1 272.61 L632.6 272.79 L633.1 272.96 L633.6 273.12 L634.09 273.27 L634.59 273.42 L635.09 273.56 L635.59 273.69 L636.09 273.82 L636.59 273.95 L637.09 274.07 L637.59 274.19 L638.09 274.31 L638.58 274.42 L639.08 274.53 L639.58 274.64 L640.08 274.74 L640.58 274.84 L641.08 274.93 L641.58 275.02 L642.08 275.11 L642.57 275.19 L643.07 275.27 L643.57 275.34 L644.07 275.41 L644.57 275.47 L645.07 275.54 L645.57 275.6 L646.07 275.67 L646.57 275.73 L647.06 275.78 L647.56 275.84 L648.06 275.9 L648.56 275.95 L649.06 276 L649.56 276.05 L650.06 276.1 L650.56 276.15 L651.06 276.2 L651.55 276.24 L652.05 276.28 L652.55 276.32 L653.05 276.36 L653.55 276.39 L654.05 276.43 L654.55 276.46 L655.05 276.49 L655.54 276.52 L656.04 276.55 L656.54 276.58 L657.04 276.6 L657.54 276.63 L658.04 276.66 L658.54 276.68 L659.04 276.71 L659.54 276.73 L660.03 276.76 L660.53 276.78 L661.03 276.8 L661.53 276.82 L662.03 276.84 L662.53 276.86 L663.03 276.87 L663.53 276.89 L664.02 276.9 L664.52 276.92 L665.02 276.93 L665.52 276.93 L666.02 276.94 L666.52 276.95 L667.02 276.95 L667.52 276.95 L668.02 276.95 L668.51 276.95 L669.01 276.94 L669.51 276.93 L670.01 276.92 L670.51 276.91 L671.01 276.9 L671.51 276.88 L672.01 276.86 L672.5 276.84 L673 276.81 L673.5 276.78 L674 276.75 L674.5 276.72" stroke="#1cf0dc"/>
<path d="M525.35 276.81 L525.85 276.74 L526.35 276.65 L526.85 276.57 L527.35 276.48 L527.84 276.38 L528.34 276.26 L528.84 276.13 L529.34 275.99 L529.84 275.84 L530.34 275.68 L530.84 275.52 L531.34 275.36 L531.83 275.19 L532.33 275.03 L532.83 274.85 L533.33 274.66 L533.83 274.46 L534.33 274.26 L534.83 274.05 L535.33 273.85 L535.83 273.66 L536.32 273.48 L536.82 273.31 L537.32 273.14 L537.82 272.97 L538.32 272.8 L538.82 272.64 L539.32 272.49 L539.82 272.36 L540.31 272.25 L540.81 272.15 L541.31 272.06 L541.81 271.96 L542.31 271.88 L542.81 271.81 L543.31 271.77 L543.81 271.75 L544.31 271.75 L544.8 271.77 L545.3 271.79 L545.8 271.81 L546.3 271.83 L546.8 271.84 L547.3 271.84 L547.8 271.84 L548.3 271.84 L548.79 271.84 L549.29 271.83 L549.79 271.81 L550.29 271.79 L550.79 271.75 L551.29 271.7 L551.79 271.64 L552.29 271.57 L552.79 271.47 L553.28 271.2 L553.78 270.77 L554.28 270.19 L554.78 269.48 L555.28 268.66 L555.78 267.73 L556.28 266.46 L556.78 264.55 L557.28 262.17 L557.77 259.46 L558.27 256.58 L558.77 253.69 L559.27 250.54 L559.77 247.04 L560.27 243.29 L560.77 239.4 L561.27 235.47 L561.76 231.6 L562.26 227.61 L562.76 223.36 L563.26 219.06 L563.76 214.88 L564.26 211.01 L564.76 207.64 L565.26 204.76 L565.76 202.03 L566.25 199.48 L566.75 197.13 L567.25 195.02 L567.75 193.17 L568.25 191.61 L568.75 190.24 L569.25 189.02 L569.75 187.92 L570.24 186.96 L570.74 186.12 L571.24 185.39 L571.74 184.65 L572.24 183.97 L572.74 183.45 L573.24 183.2 L573.74 183.23 L574.24 183.28 L574.73 183.33 L575.23 183.38 L575.73 183.44 L576.23 183.6 L576.73 183.86 L577.23 184.21 L577.73 184.61 L578.23 185.03 L578.72 185.51 L579.22 186.14 L579.72 186.88 L580.22 187.7 L580.72 188.59 L581.22 189.53 L581.72 190.63 L582.22 191.85 L582.72 193.17 L583.21 194.55 L583.71 195.96 L584.21 197.46 L584.71 199.05 L585.21 200.72 L585.71 202.42 L586.21 204.15 L586.71 205.87 L587.2 207.56 L587.7 209.27 L588.2 211.03 L588.7 212.8 L589.2 214.57 L589.7 216.31 L590.2 217.99 L590.7 219.59 L591.2 221.08 L591.69 222.49 L592.19 223.86 L592.69 225.2 L593.19 226.5 L593.69 227.76 L594.19 228.98 L594.69 230.16 L595.19 231.3 L595.68 232.4 L596.18 233.45 L596.68 234.47 L597.18 235.44 L597.68 236.38 L598.18 237.29 L598.68 238.17 L599.18 239.03 L599.68 239.86 L600.17 240.67 L600.67 241.47 L601.17 242.25 L601.67 243.01 L602.17 243.77 L602.67 244.52 L603.17 245.25 L603.67 245.97 L604.17 246.66 L604.66 247.35 L605.16 248.02 L605.66 248.68 L606.16 249.34 L606.66 250 L607.16 250.65 L607.66 251.3 L608.16 251.95 L608.65 252.6 L609.15 253.24 L609.65 253.88 L610.15 254.51 L610.65 255.13 L611.15 255.75 L611.65 256.36 L612.15 256.96 L612.65 257.55 L613.14 258.13 L613.64 258.7 L614.14 259.27 L614.64 259.84 L615.14 260.41 L615.64 260.97 L616.14 261.53 L616.64 262.07 L617.13 262.61 L617.63 263.14 L618.13 263.65 L618.63 264.14 L619.13 264.62 L619.63 265.08 L620.13 265.51 L620.63 265.93 L621.13 266.32 L621.62 266.71 L622.12 267.08 L622.62 267.45 L623.12 267.8 L623.62 268.15 L624.12 268.48 L624.62 268.79 L625.12 269.1 L625.61 269.39 L626.11 269.67 L626.61 269.93 L627.11 270.18 L627.61 270.43 L628.11 270.67 L628.61 270.9 L629.11 271.13 L629.61 271.35 L630.1 271.56 L630.6 271.77 L631.1 271.98 L631.6 272.17 L632.1 272.36 L632.6 272.55 L633.1 272.72 L633.6 272.89 L634.09 273.05 L634.59 273.21 L635.09 273.36 L635.59 273.5 L636.09 273.63 L636.59 273.76 L637.09 273.89 L637.59 274.02 L638.09 274.14 L638.58 274.26 L639.08 274.37 L639.58 274.48 L640.08 274.59 L640.58 274.69 L641.08 274.79 L641.58 274.88 L642.08 274.97 L642.57 275.06 L643.07 275.14 L643.57 275.22 L644.07 275.3 L644.57 275.37 L645.07 275.43 L645.57 275.5 L646.07 275.57 L646.57 275.63 L647.06 275.69 L647.56 275.75 L648.06 275.81 L648.56 275.86 L649.06 275.92 L649.56 275.97 L650.06 276.02 L650.56 276.07 L651.06 276.12 L651.55 276.17 L652.05 276.21 L652.55 276.25 L653.05 276.29 L653.55 276.33 L654.05 276.37 L654.55 276.4 L655.05 276.44 L655.54 276.47 L656.04 276.5 L656.54 276.53 L657.04 276.55 L657.54 276.58 L658.04 276.61 L658.54 276.64 L659.04 276.66 L659.54 276.69 L660.03 276.71 L660.53 276.74 L661.03 276.76 L661.53 276.78 L662.03 276.8 L662.53 276.82 L663.03 276.84 L663.53 276.86 L664.02 276.88 L664.52 276.89 L665.02 276.9 L665.52 276.92 L666.02 276.93 L666.52 276.93 L667.02 276.94 L667.52 276.94 L668.02 276.95 L668.51 276.95 L669.01 276.95 L669.51 276.94 L670.01 276.94 L670.51 276.93 L671.01 276.92 L671.51 276.91 L672.01 276.89 L672.5 276.87 L673 276.85 L673.5 276.83 L674 276.8 L674.5 276.77" stroke="#20a4ff"/>
<path d="M525.35 276.96 L525.85 276.9 L526.35 276.84 L526.85 276.78 L527.35 276.71 L527.84 276.63 L528.34 276.55 L528.84 276.45 L529.34 276.34 L529.84 276.23 L530.34 276.11 L530.84 275.99 L531.34 275.87 L531.83 275.74 L532.33 275.62 L532.83 275.49 L533.33 275.34 L533.83 275.19 L534.33 275.04 L534.83 274.89 L535.33 274.74 L535.83 274.6 L536.32 274.46 L536.82 274.33 L537.32 274.2 L537.82 274.08 L538.32 273.95 L538.82 273.83 L539.32 273.72 L539.82 273.62 L540.31 273.53 L540.81 273.46 L541.31 273.39 L541.81 273.32 L542.31 273.26 L542.81 273.21 L543.31 273.18 L543.81 273.16 L544.31 273.16 L544.8 273.17 L545.3 273.19 L545.8 273.21 L546.3 273.22 L546.8 273.23 L547.3 273.22 L547.8 273.21 L548.3 273.19 L548.79 273.18 L549.29 273.15 L549.79 273.12 L550.29 273.08 L550.79 273.02 L551.29 272.96 L551.79 272.88 L552.29 272.79 L552.79 272.68 L553.28 272.43 L553.78 272.01 L554.28 271.43 L554.78 270.72 L555.28 269.9 L555.78 268.97 L556.28 267.78 L556.78 265.96 L557.28 263.62 L557.77 260.92 L558.27 258.03 L558.77 255.11 L559.27 252 L559.77 248.52 L560.27 244.78 L560.77 240.87 L561.27 236.9 L561.76 232.97 L562.26 229 L562.76 224.75 L563.26 220.4 L563.76 216.14 L564.26 212.16 L564.76 208.65 L565.26 205.67 L565.76 202.88 L566.25 200.26 L566.75 197.84 L567.25 195.65 L567.75 193.72 L568.25 192.08 L568.75 190.67 L569.25 189.39 L569.75 188.25 L570.24 187.24 L570.74 186.36 L571.24 185.6 L571.74 184.84 L572.24 184.12 L572.74 183.54 L573.24 183.22 L573.74 183.2 L574.24 183.24 L574.73 183.28 L575.23 183.31 L575.73 183.35 L576.23 183.45 L576.73 183.67 L577.23 183.98 L577.73 184.35 L578.23 184.75 L578.72 185.18 L579.22 185.75 L579.72 186.43 L580.22 187.21 L580.72 188.06 L581.22 188.96 L581.72 189.98 L582.22 191.14 L582.72 192.41 L583.21 193.75 L583.71 195.14 L584.21 196.57 L584.71 198.11 L585.21 199.73 L585.71 201.41 L586.21 203.12 L586.71 204.84 L587.2 206.53 L587.7 208.21 L588.2 209.93 L588.7 211.69 L589.2 213.45 L589.7 215.2 L590.2 216.91 L590.7 218.55 L591.2 220.09 L591.69 221.53 L592.19 222.92 L592.69 224.27 L593.19 225.58 L593.69 226.86 L594.19 228.09 L594.69 229.29 L595.19 230.45 L595.68 231.57 L596.18 232.64 L596.68 233.68 L597.18 234.67 L597.68 235.63 L598.18 236.55 L598.68 237.45 L599.18 238.31 L599.68 239.15 L600.17 239.98 L600.67 240.78 L601.17 241.56 L601.67 242.33 L602.17 243.1 L602.67 243.85 L603.17 244.59 L603.67 245.31 L604.17 246.01 L604.66 246.7 L605.16 247.38 L605.66 248.05 L606.16 248.71 L606.66 249.36 L607.16 250.01 L607.66 250.66 L608.16 251.31 L608.65 251.95 L609.15 252.6 L609.65 253.23 L610.15 253.87 L610.65 254.5 L611.15 255.12 L611.65 255.73 L612.15 256.34 L612.65 256.93 L613.14 257.52 L613.64 258.1 L614.14 258.66 L614.64 259.23 L615.14 259.79 L615.64 260.36 L616.14 260.92 L616.64 261.47 L617.13 262.02 L617.63 262.55 L618.13 263.08 L618.63 263.59 L619.13 264.08 L619.63 264.56 L620.13 265.01 L620.63 265.45 L621.13 265.86 L621.62 266.25 L622.12 266.64 L622.62 267.02 L623.12 267.38 L623.62 267.74 L624.12 268.08 L624.62 268.41 L625.12 268.73 L625.61 269.03 L626.11 269.32 L626.61 269.6 L627.11 269.86 L627.61 270.12 L628.11 270.36 L628.61 270.6 L629.11 270.83 L629.61 271.06 L630.1 271.28 L630.6 271.5 L631.1 271.71 L631.6 271.91 L632.1 272.11 L632.6 272.3 L633.1 272.49 L633.6 272.66 L634.09 272.83 L634.59 273 L635.09 273.15 L635.59 273.3 L636.09 273.45 L636.59 273.58 L637.09 273.71 L637.59 273.84 L638.09 273.97 L638.58 274.09 L639.08 274.21 L639.58 274.32 L640.08 274.43 L640.58 274.54 L641.08 274.64 L641.58 274.74 L642.08 274.84 L642.57 274.93 L643.07 275.02 L643.57 275.1 L644.07 275.18 L644.57 275.26 L645.07 275.33 L645.57 275.4 L646.07 275.47 L646.57 275.53 L647.06 275.59 L647.56 275.66 L648.06 275.72 L648.56 275.77 L649.06 275.83 L649.56 275.89 L650.06 275.94 L650.56 275.99 L651.06 276.04 L651.55 276.09 L652.05 276.14 L652.55 276.18 L653.05 276.23 L653.55 276.27 L654.05 276.31 L654.55 276.34 L655.05 276.38 L655.54 276.41 L656.04 276.45 L656.54 276.48 L657.04 276.5 L657.54 276.53 L658.04 276.56 L658.54 276.59 L659.04 276.62 L659.54 276.64 L660.03 276.67 L660.53 276.7 L661.03 276.72 L661.53 276.74 L662.03 276.77 L662.53 276.79 L663.03 276.81 L663.53 276.83 L664.02 276.85 L664.52 276.86 L665.02 276.88 L665.52 276.89 L666.02 276.91 L666.52 276.92 L667.02 276.93 L667.52 276.93 L668.02 276.94 L668.51 276.94 L669.01 276.95 L669.51 276.95 L670.01 276.94 L670.51 276.94 L671.01 276.93 L671.51 276.92 L672.01 276.91 L672.5 276.9 L673 276.88 L673.5 276.87 L674 276.84 L674.5 276.82" stroke="#2078ff"/>
<path d="M525.35 277.06 L525.85 277.01 L526.35 276.96 L526.85 276.91 L527.35 276.86 L527.84 276.8 L528.34 276.74 L528.84 276.66 L529.34 276.58 L529.84 276.49 L530.34 276.4 L530.84 276.3 L531.34 276.21 L531.83 276.11 L532.33 276.02 L532.83 275.91 L533.33 275.8 L533.83 275.68 L534.33 275.57 L534.83 275.45 L535.33 275.33 L535.83 275.22 L536.32 275.11 L536.82 275.01 L537.32 274.91 L537.82 274.81 L538.32 274.72 L538.82 274.62 L539.32 274.54 L539.82 274.46 L540.31 274.39 L540.81 274.34 L541.31 274.28 L541.81 274.23 L542.31 274.18 L542.81 274.14 L543.31 274.11 L543.81 274.1 L544.31 274.11 L544.8 274.11 L545.3 274.13 L545.8 274.14 L546.3 274.15 L546.8 274.16 L547.3 274.15 L547.8 274.13 L548.3 274.11 L548.79 274.09 L549.29 274.06 L549.79 274.01 L550.29 273.96 L550.79 273.9 L551.29 273.82 L551.79 273.74 L552.29 273.64 L552.79 273.54 L553.28 273.34 L553.78 272.97 L554.28 272.43 L554.78 271.76 L555.28 270.96 L555.78 270.05 L556.28 269.01 L556.78 267.41 L557.28 265.23 L557.77 262.64 L558.27 259.78 L558.77 256.83 L559.27 253.82 L559.77 250.45 L560.27 246.77 L560.77 242.89 L561.27 238.91 L561.76 234.92 L562.26 231 L562.76 226.81 L563.26 222.45 L563.76 218.11 L564.26 213.98 L564.76 210.24 L565.26 207.07 L565.76 204.2 L566.25 201.49 L566.75 198.97 L567.25 196.67 L567.75 194.62 L568.25 192.84 L568.75 191.34 L569.25 190 L569.75 188.79 L570.24 187.71 L570.74 186.77 L571.24 185.95 L571.74 185.2 L572.24 184.43 L572.74 183.78 L573.24 183.33 L573.74 183.2 L574.24 183.23 L574.73 183.26 L575.23 183.29 L575.73 183.32 L576.23 183.35 L576.73 183.48 L577.23 183.72 L577.73 184.03 L578.23 184.4 L578.72 184.8 L579.22 185.24 L579.72 185.82 L580.22 186.51 L580.72 187.29 L581.22 188.13 L581.72 189.02 L582.22 190.05 L582.72 191.2 L583.21 192.46 L583.71 193.79 L584.21 195.16 L584.71 196.57 L585.21 198.09 L585.71 199.69 L586.21 201.35 L586.71 203.03 L587.2 204.72 L587.7 206.4 L588.2 208.05 L588.7 209.74 L589.2 211.47 L589.7 213.22 L590.2 214.94 L590.7 216.63 L591.2 218.26 L591.69 219.79 L592.19 221.22 L592.69 222.6 L593.19 223.94 L593.69 225.24 L594.19 226.51 L594.69 227.74 L595.19 228.93 L595.68 230.08 L596.18 231.19 L596.68 232.26 L597.18 233.3 L597.68 234.29 L598.18 235.24 L598.68 236.16 L599.18 237.05 L599.68 237.92 L600.17 238.76 L600.67 239.57 L601.17 240.37 L601.67 241.15 L602.17 241.92 L602.67 242.67 L603.17 243.42 L603.67 244.16 L604.17 244.88 L604.66 245.58 L605.16 246.27 L605.66 246.94 L606.16 247.61 L606.66 248.26 L607.16 248.91 L607.66 249.55 L608.16 250.19 L608.65 250.83 L609.15 251.47 L609.65 252.1 L610.15 252.74 L610.65 253.37 L611.15 253.99 L611.65 254.61 L612.15 255.22 L612.65 255.82 L613.14 256.42 L613.64 257 L614.14 257.58 L614.64 258.15 L615.14 258.7 L615.64 259.26 L616.14 259.82 L616.64 260.38 L617.13 260.93 L617.63 261.48 L618.13 262.01 L618.63 262.54 L619.13 263.06 L619.63 263.56 L620.13 264.05 L620.63 264.52 L621.13 264.97 L621.62 265.4 L622.12 265.81 L622.62 266.2 L623.12 266.58 L623.62 266.95 L624.12 267.32 L624.62 267.67 L625.12 268.01 L625.61 268.33 L626.11 268.65 L626.61 268.95 L627.11 269.24 L627.61 269.52 L628.11 269.79 L628.61 270.04 L629.11 270.28 L629.61 270.52 L630.1 270.75 L630.6 270.98 L631.1 271.2 L631.6 271.41 L632.1 271.62 L632.6 271.83 L633.1 272.02 L633.6 272.21 L634.09 272.4 L634.59 272.58 L635.09 272.75 L635.59 272.91 L636.09 273.07 L636.59 273.22 L637.09 273.37 L637.59 273.5 L638.09 273.63 L638.58 273.76 L639.08 273.89 L639.58 274.01 L640.08 274.13 L640.58 274.25 L641.08 274.36 L641.58 274.47 L642.08 274.57 L642.57 274.67 L643.07 274.77 L643.57 274.86 L644.07 274.95 L644.57 275.04 L645.07 275.12 L645.57 275.2 L646.07 275.27 L646.57 275.34 L647.06 275.41 L647.56 275.47 L648.06 275.54 L648.56 275.6 L649.06 275.66 L649.56 275.72 L650.06 275.78 L650.56 275.83 L651.06 275.89 L651.55 275.94 L652.05 275.99 L652.55 276.04 L653.05 276.09 L653.55 276.14 L654.05 276.18 L654.55 276.22 L655.05 276.26 L655.54 276.3 L656.04 276.34 L656.54 276.38 L657.04 276.41 L657.54 276.44 L658.04 276.47 L658.54 276.5 L659.04 276.53 L659.54 276.56 L660.03 276.58 L660.53 276.61 L661.03 276.64 L661.53 276.66 L662.03 276.69 L662.53 276.71 L663.03 276.74 L663.53 276.76 L664.02 276.78 L664.52 276.8 L665.02 276.82 L665.52 276.84 L666.02 276.86 L666.52 276.87 L667.02 276.89 L667.52 276.9 L668.02 276.91 L668.51 276.92 L669.01 276.93 L669.51 276.94 L670.01 276.94 L670.51 276.94 L671.01 276.94 L671.51 276.94 L672.01 276.94 L672.5 276.94 L673 276.93 L673.5 276.92 L674 276.91 L674.5 276.89" stroke="#5c5cff"/>
<path d="M525.35 277.16 L525.85 277.12 L526.35 277.09 L526.85 277.05 L527.35 277.02 L527.84 276.97 L528.34 276.93 L528.84 276.87 L529.34 276.81 L529.84 276.75 L530.34 276.68 L530.84 276.62 L531.34 276.55 L531.83 276.48 L532.33 276.41 L532.83 276.34 L533.33 276.26 L533.83 276.17 L534.33 276.09 L534.83 276.01 L535.33 275.92 L535.83 275.84 L536.32 275.77 L536.82 275.69 L537.32 275.62 L537.82 275.55 L538.32 275.48 L538.82 275.42 L539.32 275.36 L539.82 275.3 L540.31 275.25 L540.81 275.21 L541.31 275.17 L541.81 275.14 L542.31 275.1 L542.81 275.07 L543.31 275.05 L543.81 275.04 L544.31 275.05 L544.8 275.05 L545.3 275.06 L545.8 275.07 L546.3 275.08 L546.8 275.08 L547.3 275.07 L547.8 275.05 L548.3 275.03 L548.79 275 L549.29 274.96 L549.79 274.91 L550.29 274.85 L550.79 274.78 L551.29 274.69 L551.79 274.6 L552.29 274.49 L552.79 274.38 L553.28 274.22 L553.78 273.9 L554.28 273.41 L554.78 272.78 L555.28 272.01 L555.78 271.13 L556.28 270.14 L556.78 268.78 L557.28 266.79 L557.77 264.31 L558.27 261.52 L558.77 258.56 L559.27 255.59 L559.77 252.34 L560.27 248.75 L560.77 244.9 L561.27 240.92 L561.76 236.9 L562.26 232.95 L562.76 228.85 L563.26 224.51 L563.76 220.12 L564.26 215.85 L564.76 211.91 L565.26 208.48 L565.76 205.53 L566.25 202.73 L566.75 200.12 L567.25 197.71 L567.75 195.54 L568.25 193.64 L568.75 192.02 L569.25 190.61 L569.75 189.34 L570.24 188.2 L570.74 187.19 L571.24 186.31 L571.74 185.53 L572.24 184.75 L572.74 184.03 L573.24 183.47 L573.74 183.2 L574.24 183.2 L574.73 183.22 L575.23 183.24 L575.73 183.27 L576.23 183.29 L576.73 183.33 L577.23 183.48 L577.73 183.73 L578.23 184.06 L578.72 184.42 L579.22 184.81 L579.72 185.27 L580.22 185.86 L580.72 186.55 L581.22 187.33 L581.72 188.17 L582.22 189.06 L582.72 190.08 L583.21 191.23 L583.71 192.48 L584.21 193.8 L584.71 195.14 L585.21 196.55 L585.71 198.05 L586.21 199.63 L586.71 201.26 L587.2 202.92 L587.7 204.59 L588.2 206.24 L588.7 207.86 L589.2 209.54 L589.7 211.24 L590.2 212.96 L590.7 214.67 L591.2 216.34 L591.69 217.95 L592.19 219.48 L592.69 220.91 L593.19 222.27 L593.69 223.6 L594.19 224.89 L594.69 226.15 L595.19 227.37 L595.68 228.55 L596.18 229.7 L596.68 230.8 L597.18 231.87 L597.68 232.9 L598.18 233.89 L598.68 234.84 L599.18 235.76 L599.68 236.65 L600.17 237.51 L600.67 238.35 L601.17 239.16 L601.67 239.96 L602.17 240.73 L602.67 241.5 L603.17 242.25 L603.67 242.99 L604.17 243.72 L604.66 244.44 L605.16 245.14 L605.66 245.83 L606.16 246.5 L606.66 247.16 L607.16 247.81 L607.66 248.45 L608.16 249.09 L608.65 249.72 L609.15 250.35 L609.65 250.99 L610.15 251.61 L610.65 252.24 L611.15 252.86 L611.65 253.48 L612.15 254.1 L612.65 254.7 L613.14 255.31 L613.64 255.9 L614.14 256.48 L614.64 257.06 L615.14 257.63 L615.64 258.19 L616.14 258.74 L616.64 259.29 L617.13 259.84 L617.63 260.39 L618.13 260.93 L618.63 261.47 L619.13 262 L619.63 262.53 L620.13 263.04 L620.63 263.53 L621.13 264.02 L621.62 264.48 L622.12 264.93 L622.62 265.35 L623.12 265.75 L623.62 266.14 L624.12 266.52 L624.62 266.89 L625.12 267.25 L625.61 267.6 L626.11 267.93 L626.61 268.26 L627.11 268.57 L627.61 268.88 L628.11 269.17 L628.61 269.44 L629.11 269.71 L629.61 269.96 L630.1 270.2 L630.6 270.43 L631.1 270.67 L631.6 270.89 L632.1 271.11 L632.6 271.33 L633.1 271.54 L633.6 271.74 L634.09 271.94 L634.59 272.13 L635.09 272.31 L635.59 272.49 L636.09 272.66 L636.59 272.83 L637.09 272.99 L637.59 273.14 L638.09 273.29 L638.58 273.42 L639.08 273.56 L639.58 273.69 L640.08 273.81 L640.58 273.93 L641.08 274.05 L641.58 274.17 L642.08 274.28 L642.57 274.39 L643.07 274.5 L643.57 274.6 L644.07 274.7 L644.57 274.79 L645.07 274.88 L645.57 274.97 L646.07 275.06 L646.57 275.14 L647.06 275.21 L647.56 275.28 L648.06 275.35 L648.56 275.42 L649.06 275.48 L649.56 275.54 L650.06 275.61 L650.56 275.66 L651.06 275.72 L651.55 275.78 L652.05 275.84 L652.55 275.89 L653.05 275.94 L653.55 275.99 L654.05 276.04 L654.55 276.09 L655.05 276.13 L655.54 276.18 L656.04 276.22 L656.54 276.26 L657.04 276.3 L657.54 276.34 L658.04 276.37 L658.54 276.4 L659.04 276.44 L659.54 276.46 L660.03 276.49 L660.53 276.52 L661.03 276.55 L661.53 276.58 L662.03 276.6 L662.53 276.63 L663.03 276.66 L663.53 276.68 L664.02 276.7 L664.52 276.73 L665.02 276.75 L665.52 276.77 L666.02 276.79 L666.52 276.81 L667.02 276.83 L667.52 276.85 L668.02 276.87 L668.51 276.88 L669.01 276.89 L669.51 276.91 L670.01 276.92 L670.51 276.92 L671.01 276.93 L671.51 276.94 L672.01 276.94 L672.5 276.94 L673 276.94 L673.5 276.94 L674 276.94 L674.5 276.93" stroke="#a45cff"/>
<path d="M525.35 277.25 L525.85 277.23 L526.35 277.21 L526.85 277.19 L527.35 277.17 L527.84 277.14 L528.34 277.12 L528.84 277.08 L529.34 277.05 L529.84 277.01 L530.34 276.97 L530.84 276.93 L531.34 276.89 L531.83 276.85 L532.33 276.81 L532.83 276.76 L533.33 276.71 L533.83 276.66 L534.33 276.61 L534.83 276.56 L535.33 276.51 L535.83 276.47 L536.32 276.42 L536.82 276.38 L537.32 276.33 L537.82 276.29 L538.32 276.25 L538.82 276.21 L539.32 276.17 L539.82 276.14 L540.31 276.11 L540.81 276.09 L541.31 276.06 L541.81 276.04 L542.31 276.02 L542.81 276 L543.31 275.99 L543.81 275.99 L544.31 275.99 L544.8 275.99 L545.3 276 L545.8 276 L546.3 276.01 L546.8 276.01 L547.3 275.99 L547.8 275.97 L548.3 275.94 L548.79 275.9 L549.29 275.85 L549.79 275.79 L550.29 275.72 L550.79 275.64 L551.29 275.55 L551.79 275.44 L552.29 275.33 L552.79 275.2 L553.28 275.06 L553.78 274.78 L554.28 274.32 L554.78 273.71 L555.28 272.97 L555.78 272.1 L556.28 271.12 L556.78 269.92 L557.28 268.07 L557.77 265.7 L558.27 262.96 L558.77 260.01 L559.27 257.01 L559.77 253.87 L560.27 250.34 L560.77 246.53 L561.27 242.56 L561.76 238.51 L562.26 234.5 L562.76 230.47 L563.26 226.16 L563.76 221.74 L564.26 217.39 L564.76 213.31 L565.26 209.69 L565.76 206.63 L566.25 203.76 L566.75 201.07 L567.25 198.58 L567.75 196.32 L568.25 194.32 L568.75 192.6 L569.25 191.13 L569.75 189.8 L570.24 188.61 L570.74 187.55 L571.24 186.62 L571.74 185.82 L572.24 185.02 L572.74 184.26 L573.24 183.63 L573.74 183.26 L574.24 183.2 L574.73 183.21 L575.23 183.23 L575.73 183.24 L576.23 183.25 L576.73 183.26 L577.23 183.35 L577.73 183.54 L578.23 183.82 L578.72 184.15 L579.22 184.52 L579.72 184.91 L580.22 185.42 L580.72 186.04 L581.22 186.76 L581.72 187.55 L582.22 188.39 L582.72 189.31 L583.21 190.37 L583.71 191.54 L584.21 192.8 L584.71 194.11 L585.21 195.45 L585.71 196.87 L586.21 198.38 L586.71 199.95 L587.2 201.58 L587.7 203.23 L588.2 204.88 L588.7 206.5 L589.2 208.12 L589.7 209.78 L590.2 211.48 L590.7 213.18 L591.2 214.86 L591.69 216.51 L592.19 218.1 L592.69 219.6 L593.19 220.99 L593.69 222.34 L594.19 223.65 L594.69 224.93 L595.19 226.17 L595.68 227.37 L596.18 228.54 L596.68 229.67 L597.18 230.77 L597.68 231.82 L598.18 232.84 L598.68 233.82 L599.18 234.76 L599.68 235.67 L600.17 236.55 L600.67 237.41 L601.17 238.24 L601.67 239.04 L602.17 239.83 L602.67 240.6 L603.17 241.35 L603.67 242.1 L604.17 242.83 L604.66 243.56 L605.16 244.27 L605.66 244.97 L606.16 245.65 L606.66 246.32 L607.16 246.98 L607.66 247.62 L608.16 248.26 L608.65 248.89 L609.15 249.52 L609.65 250.15 L610.15 250.77 L610.65 251.39 L611.15 252.01 L611.65 252.63 L612.15 253.25 L612.65 253.86 L613.14 254.46 L613.64 255.06 L614.14 255.65 L614.64 256.23 L615.14 256.81 L615.64 257.37 L616.14 257.93 L616.64 258.47 L617.13 259.02 L617.63 259.57 L618.13 260.11 L618.63 260.66 L619.13 261.19 L619.63 261.73 L620.13 262.25 L620.63 262.76 L621.13 263.26 L621.62 263.74 L622.12 264.21 L622.62 264.67 L623.12 265.1 L623.62 265.51 L624.12 265.9 L624.62 266.28 L625.12 266.65 L625.61 267.02 L626.11 267.37 L626.61 267.71 L627.11 268.04 L627.61 268.36 L628.11 268.66 L628.61 268.96 L629.11 269.24 L629.61 269.51 L630.1 269.77 L630.6 270.01 L631.1 270.25 L631.6 270.48 L632.1 270.71 L632.6 270.94 L633.1 271.15 L633.6 271.36 L634.09 271.57 L634.59 271.77 L635.09 271.96 L635.59 272.15 L636.09 272.34 L636.59 272.51 L637.09 272.68 L637.59 272.84 L638.09 273 L638.58 273.15 L639.08 273.29 L639.58 273.43 L640.08 273.56 L640.58 273.69 L641.08 273.81 L641.58 273.93 L642.08 274.05 L642.57 274.17 L643.07 274.28 L643.57 274.39 L644.07 274.49 L644.57 274.59 L645.07 274.69 L645.57 274.79 L646.07 274.88 L646.57 274.96 L647.06 275.05 L647.56 275.13 L648.06 275.2 L648.56 275.27 L649.06 275.34 L649.56 275.41 L650.06 275.47 L650.56 275.53 L651.06 275.59 L651.55 275.65 L652.05 275.71 L652.55 275.77 L653.05 275.82 L653.55 275.88 L654.05 275.93 L654.55 275.98 L655.05 276.03 L655.54 276.07 L656.04 276.12 L656.54 276.16 L657.04 276.21 L657.54 276.25 L658.04 276.29 L658.54 276.32 L659.04 276.36 L659.54 276.39 L660.03 276.42 L660.53 276.45 L661.03 276.48 L661.53 276.51 L662.03 276.54 L662.53 276.56 L663.03 276.59 L663.53 276.62 L664.02 276.64 L664.52 276.67 L665.02 276.69 L665.52 276.72 L666.02 276.74 L666.52 276.76 L667.02 276.78 L667.52 276.8 L668.02 276.82 L668.51 276.84 L669.01 276.86 L669.51 276.87 L670.01 276.88 L670.51 276.9 L671.01 276.91 L671.51 276.92 L672.01 276.93 L672.5 276.93 L673 276.94 L673.5 276.94 L674 276.94 L674.5 276.94" stroke="#c21cff"/>
</g>
<rect x="522.7" y="163.3" width="152.3" height="119.2" fill="none" stroke="#161616" stroke-width="0.95"/>
<line x1="520.3" y1="277.4" x2="522.7" y2="277.4" stroke="#222" stroke-width="0.7" />
<text x="518.2" y="280.5" font-size="8.6" text-anchor="end" fill="#111" font-weight="normal" >0.0</text>
<line x1="520.3" y1="258.56" x2="522.7" y2="258.56" stroke="#222" stroke-width="0.7" />
<text x="518.2" y="261.66" font-size="8.6" text-anchor="end" fill="#111" font-weight="normal" >0.2</text>
<line x1="520.3" y1="239.72" x2="522.7" y2="239.72" stroke="#222" stroke-width="0.7" />
<text x="518.2" y="242.82" font-size="8.6" text-anchor="end" fill="#111" font-weight="normal" >0.4</text>
<line x1="520.3" y1="220.88" x2="522.7" y2="220.88" stroke="#222" stroke-width="0.7" />
<text x="518.2" y="223.98" font-size="8.6" text-anchor="end" fill="#111" font-weight="normal" >0.6</text>
<line x1="520.3" y1="202.04" x2="522.7" y2="202.04" stroke="#222" stroke-width="0.7" />
<text x="518.2" y="205.14" font-size="8.6" text-anchor="end" fill="#111" font-weight="normal" >0.8</text>
<line x1="520.3" y1="183.2" x2="522.7" y2="183.2" stroke="#222" stroke-width="0.7" />
<text x="518.2" y="186.3" font-size="8.6" text-anchor="end" fill="#111" font-weight="normal" >1.0</text>
<line x1="520.3" y1="164.36" x2="522.7" y2="164.36" stroke="#222" stroke-width="0.7" />
<text x="518.2" y="167.46" font-size="8.6" text-anchor="end" fill="#111" font-weight="normal" >1.2</text>
<line x1="521.3" y1="267.98" x2="522.7" y2="267.98" stroke="#222" stroke-width="0.6" />
<line x1="521.3" y1="249.14" x2="522.7" y2="249.14" stroke="#222" stroke-width="0.6" />
<line x1="521.3" y1="230.3" x2="522.7" y2="230.3" stroke="#222" stroke-width="0.6" />
<line x1="521.3" y1="211.46" x2="522.7" y2="211.46" stroke="#222" stroke-width="0.6" />
<line x1="521.3" y1="192.62" x2="522.7" y2="192.62" stroke="#222" stroke-width="0.6" />
<line x1="521.3" y1="173.78" x2="522.7" y2="173.78" stroke="#222" stroke-width="0.6" />
<line x1="532" y1="282.5" x2="532" y2="284.9" stroke="#222" stroke-width="0.7" />
<text x="532" y="293.7" font-size="8.6" text-anchor="middle" fill="#111" font-weight="normal" >400</text>
<line x1="555.75" y1="282.5" x2="555.75" y2="284.9" stroke="#222" stroke-width="0.7" />
<text x="555.75" y="293.7" font-size="8.6" text-anchor="middle" fill="#111" font-weight="normal" >450</text>
<line x1="579.5" y1="282.5" x2="579.5" y2="284.9" stroke="#222" stroke-width="0.7" />
<text x="579.5" y="293.7" font-size="8.6" text-anchor="middle" fill="#111" font-weight="normal" >500</text>
<line x1="603.25" y1="282.5" x2="603.25" y2="284.9" stroke="#222" stroke-width="0.7" />
<text x="603.25" y="293.7" font-size="8.6" text-anchor="middle" fill="#111" font-weight="normal" >550</text>
<line x1="627" y1="282.5" x2="627" y2="284.9" stroke="#222" stroke-width="0.7" />
<text x="627" y="293.7" font-size="8.6" text-anchor="middle" fill="#111" font-weight="normal" >600</text>
<line x1="650.75" y1="282.5" x2="650.75" y2="284.9" stroke="#222" stroke-width="0.7" />
<text x="650.75" y="293.7" font-size="8.6" text-anchor="middle" fill="#111" font-weight="normal" >650</text>
<line x1="674.5" y1="282.5" x2="674.5" y2="284.9" stroke="#222" stroke-width="0.7" />
<text x="674.5" y="293.7" font-size="8.6" text-anchor="middle" fill="#111" font-weight="normal" >700</text>
<line x1="527.25" y1="282.5" x2="527.25" y2="283.9" stroke="#222" stroke-width="0.6" />
<line x1="536.75" y1="282.5" x2="536.75" y2="283.9" stroke="#222" stroke-width="0.6" />
<line x1="541.5" y1="282.5" x2="541.5" y2="283.9" stroke="#222" stroke-width="0.6" />
<line x1="546.25" y1="282.5" x2="546.25" y2="283.9" stroke="#222" stroke-width="0.6" />
<line x1="551" y1="282.5" x2="551" y2="283.9" stroke="#222" stroke-width="0.6" />
<line x1="560.5" y1="282.5" x2="560.5" y2="283.9" stroke="#222" stroke-width="0.6" />
<line x1="565.25" y1="282.5" x2="565.25" y2="283.9" stroke="#222" stroke-width="0.6" />
<line x1="570" y1="282.5" x2="570" y2="283.9" stroke="#222" stroke-width="0.6" />
<line x1="574.75" y1="282.5" x2="574.75" y2="283.9" stroke="#222" stroke-width="0.6" />
<line x1="584.25" y1="282.5" x2="584.25" y2="283.9" stroke="#222" stroke-width="0.6" />
<line x1="589" y1="282.5" x2="589" y2="283.9" stroke="#222" stroke-width="0.6" />
<line x1="593.75" y1="282.5" x2="593.75" y2="283.9" stroke="#222" stroke-width="0.6" />
<line x1="598.5" y1="282.5" x2="598.5" y2="283.9" stroke="#222" stroke-width="0.6" />
<line x1="608" y1="282.5" x2="608" y2="283.9" stroke="#222" stroke-width="0.6" />
<line x1="612.75" y1="282.5" x2="612.75" y2="283.9" stroke="#222" stroke-width="0.6" />
<line x1="617.5" y1="282.5" x2="617.5" y2="283.9" stroke="#222" stroke-width="0.6" />
<line x1="622.25" y1="282.5" x2="622.25" y2="283.9" stroke="#222" stroke-width="0.6" />
<line x1="631.75" y1="282.5" x2="631.75" y2="283.9" stroke="#222" stroke-width="0.6" />
<line x1="636.5" y1="282.5" x2="636.5" y2="283.9" stroke="#222" stroke-width="0.6" />
<line x1="641.25" y1="282.5" x2="641.25" y2="283.9" stroke="#222" stroke-width="0.6" />
<line x1="646" y1="282.5" x2="646" y2="283.9" stroke="#222" stroke-width="0.6" />
<line x1="655.5" y1="282.5" x2="655.5" y2="283.9" stroke="#222" stroke-width="0.6" />
<line x1="660.25" y1="282.5" x2="660.25" y2="283.9" stroke="#222" stroke-width="0.6" />
<line x1="665" y1="282.5" x2="665" y2="283.9" stroke="#222" stroke-width="0.6" />
<line x1="669.75" y1="282.5" x2="669.75" y2="283.9" stroke="#222" stroke-width="0.6" />
<text x="594.7" y="305.7" font-size="9.9" text-anchor="middle" fill="#111" font-weight="normal" >Wavelength/nm</text>
<text transform="translate(502.6 222.6) rotate(-90)" font-size="9.7" text-anchor="middle" fill="#111">Normalized Emission Intensity</text>
<line x1="545" y1="227.5" x2="545" y2="211.5" stroke="#000" stroke-width="2.2" />
<path d="M545 204.6 L549.3 212.6 L540.7 212.6 Z" fill="#000"/>
<line x1="628.6" y1="260.5" x2="628.6" y2="174" stroke="#000" stroke-width="2.0" />
<path d="M628.6 167.6 L632.9 175.7 L624.3 175.7 Z" fill="#000"/>
<text x="597" y="219.6" font-size="10.1" text-anchor="start" fill="#111" font-weight="normal" >Temp.</text>
<line x1="634" y1="169.5" x2="647.8" y2="169.5" stroke="#ff2020" stroke-width="1.4" />
<text x="651.4" y="172.5" font-size="8.5" text-anchor="start" fill="#111" font-weight="normal" >323 K</text>
<line x1="634" y1="177.8" x2="647.8" y2="177.8" stroke="#ff7838" stroke-width="1.4" />
<text x="651.4" y="180.8" font-size="8.5" text-anchor="start" fill="#111" font-weight="normal" >313 K</text>
<line x1="634" y1="186.1" x2="647.8" y2="186.1" stroke="#ffa63c" stroke-width="1.4" />
<text x="651.4" y="189.1" font-size="8.5" text-anchor="start" fill="#111" font-weight="normal" >303 K</text>
<line x1="634" y1="194.4" x2="647.8" y2="194.4" stroke="#ffe21e" stroke-width="1.4" />
<text x="651.4" y="197.4" font-size="8.5" text-anchor="start" fill="#111" font-weight="normal" >293 K</text>
<line x1="634" y1="202.7" x2="647.8" y2="202.7" stroke="#86f000" stroke-width="1.4" />
<text x="651.4" y="205.7" font-size="8.5" text-anchor="start" fill="#111" font-weight="normal" >283 K</text>
<line x1="634" y1="211" x2="647.8" y2="211" stroke="#20f060" stroke-width="1.4" />
<text x="651.4" y="214" font-size="8.5" text-anchor="start" fill="#111" font-weight="normal" >273 K</text>
<line x1="634" y1="219.3" x2="647.8" y2="219.3" stroke="#1cf0dc" stroke-width="1.4" />
<text x="651.4" y="222.3" font-size="8.5" text-anchor="start" fill="#111" font-weight="normal" >263 K</text>
<line x1="634" y1="227.6" x2="647.8" y2="227.6" stroke="#20a4ff" stroke-width="1.4" />
<text x="651.4" y="230.6" font-size="8.5" text-anchor="start" fill="#111" font-weight="normal" >253 K</text>
<line x1="634" y1="235.9" x2="647.8" y2="235.9" stroke="#2078ff" stroke-width="1.4" />
<text x="651.4" y="238.9" font-size="8.5" text-anchor="start" fill="#111" font-weight="normal" >243 K</text>
<line x1="634" y1="244.2" x2="647.8" y2="244.2" stroke="#5c5cff" stroke-width="1.4" />
<text x="651.4" y="247.2" font-size="8.5" text-anchor="start" fill="#111" font-weight="normal" >233 K</text>
<line x1="634" y1="252.5" x2="647.8" y2="252.5" stroke="#a45cff" stroke-width="1.4" />
<text x="651.4" y="255.5" font-size="8.5" text-anchor="start" fill="#111" font-weight="normal" >223 K</text>
<line x1="634" y1="260.8" x2="647.8" y2="260.8" stroke="#c21cff" stroke-width="1.4" />
<text x="651.4" y="263.8" font-size="8.5" text-anchor="start" fill="#111" font-weight="normal" >77&#160;&#160; K</text>
</g>
</svg></body></html>
